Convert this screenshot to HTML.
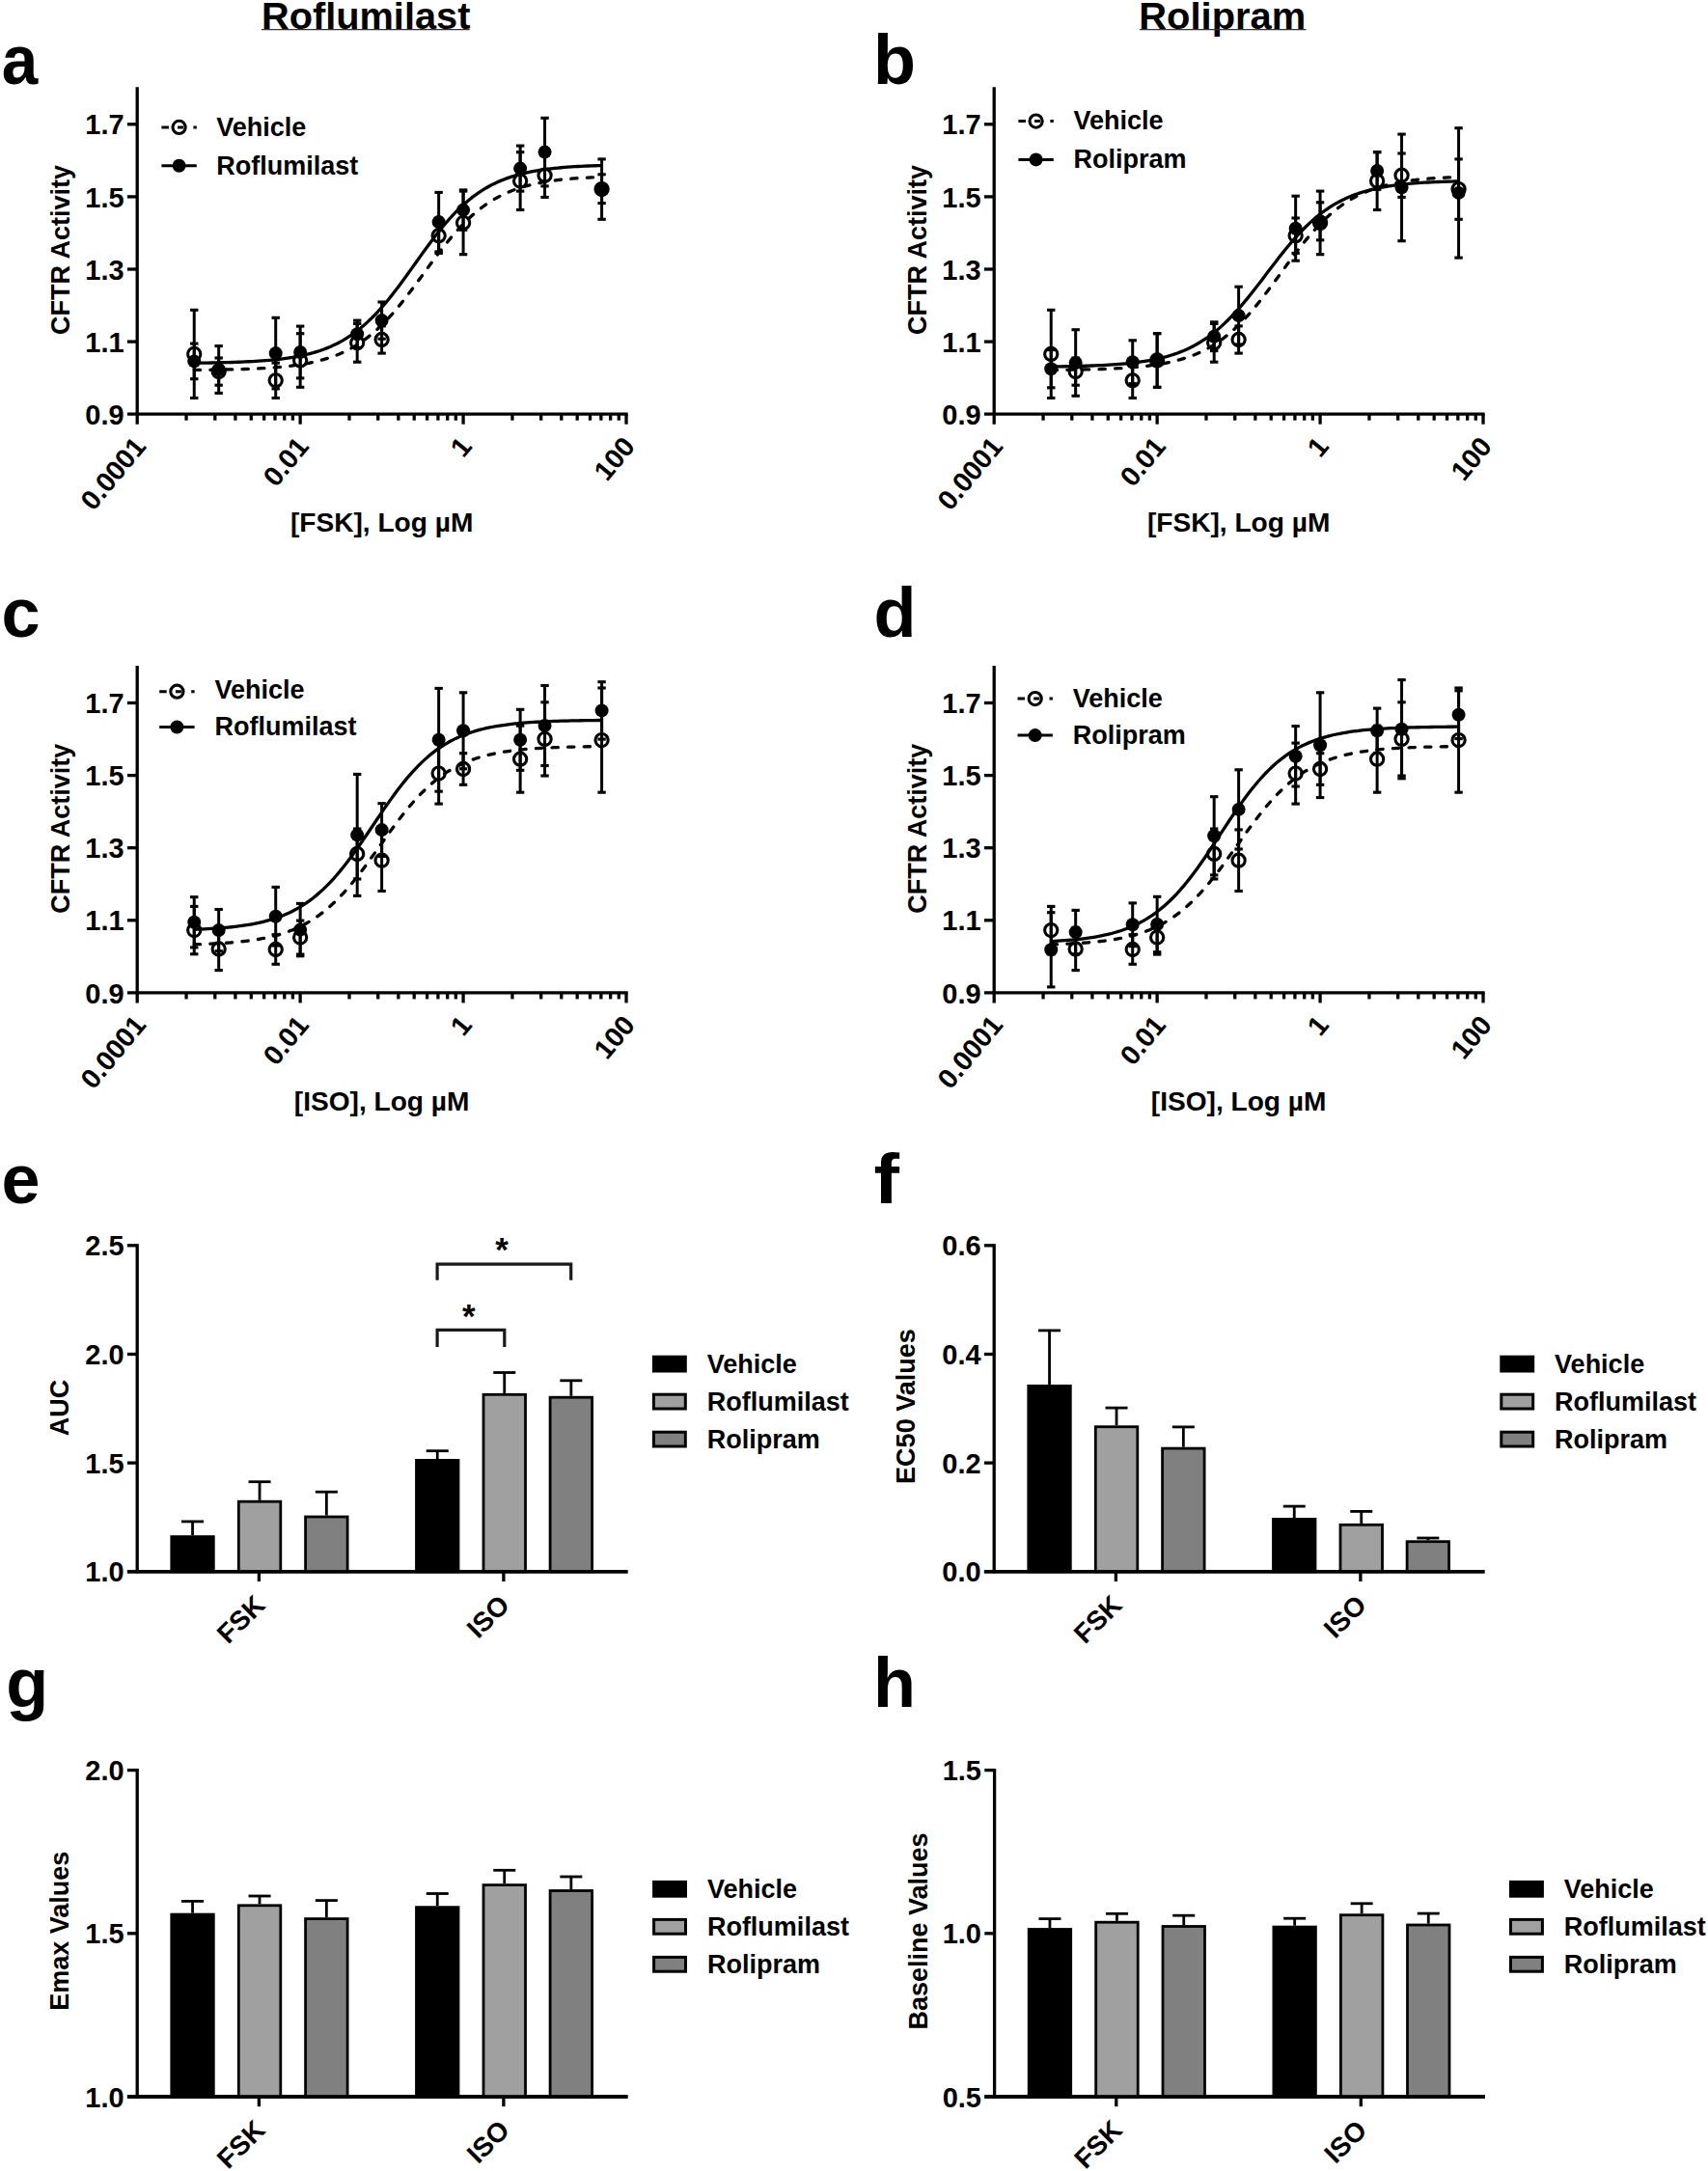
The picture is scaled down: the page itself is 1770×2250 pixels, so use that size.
<!DOCTYPE html>
<html lang="en"><head><meta charset="utf-8"><title>Figure</title>
<style>html,body{margin:0;padding:0;background:#fff}svg{display:block}</style></head>
<body>
<svg width="1770" height="2250" viewBox="0 0 1770 2250" font-family="'Liberation Sans', Arial, Helvetica, sans-serif" font-weight="bold" fill="#000">
<rect width="1770" height="2250" fill="#fff"/>
<text x="379.2" y="29.8" font-size="38.2" text-anchor="middle" textLength="216.5" lengthAdjust="spacingAndGlyphs">Roflumilast</text>
<line x1="271" y1="30.6" x2="486.7" y2="30.6" stroke-width="1.2" stroke="#333"/>
<text x="1266.8" y="29.8" font-size="38.2" text-anchor="middle" textLength="173" lengthAdjust="spacingAndGlyphs">Rolipram</text>
<line x1="1181" y1="30.6" x2="1353.5" y2="30.6" stroke-width="1.2" stroke="#333"/>
<g transform="translate(0 0)">
<g stroke="#000" fill="none" stroke-linecap="butt">
<line x1="142.2" y1="90.3" x2="142.2" y2="439.7" stroke-width="3.3"/>
<line x1="131.9" y1="429.2" x2="650.67" y2="429.2" stroke-width="3.3"/>
<line x1="131.9" y1="354.1" x2="142.2" y2="354.1" stroke-width="3.3"/>
<line x1="131.9" y1="279" x2="142.2" y2="279" stroke-width="3.3"/>
<line x1="131.9" y1="203.9" x2="142.2" y2="203.9" stroke-width="3.3"/>
<line x1="131.9" y1="128.8" x2="142.2" y2="128.8" stroke-width="3.3"/>
<line x1="311.14" y1="429.2" x2="311.14" y2="439.7" stroke-width="3.3"/>
<line x1="193.06" y1="429.2" x2="193.06" y2="435.7" stroke-width="3.3"/>
<line x1="222.8" y1="429.2" x2="222.8" y2="435.7" stroke-width="3.3"/>
<line x1="243.91" y1="429.2" x2="243.91" y2="435.7" stroke-width="3.3"/>
<line x1="260.28" y1="429.2" x2="260.28" y2="435.7" stroke-width="3.3"/>
<line x1="273.66" y1="429.2" x2="273.66" y2="435.7" stroke-width="3.3"/>
<line x1="284.97" y1="429.2" x2="284.97" y2="435.7" stroke-width="3.3"/>
<line x1="294.77" y1="429.2" x2="294.77" y2="435.7" stroke-width="3.3"/>
<line x1="303.41" y1="429.2" x2="303.41" y2="435.7" stroke-width="3.3"/>
<line x1="480.08" y1="429.2" x2="480.08" y2="439.7" stroke-width="3.3"/>
<line x1="362" y1="429.2" x2="362" y2="435.7" stroke-width="3.3"/>
<line x1="391.74" y1="429.2" x2="391.74" y2="435.7" stroke-width="3.3"/>
<line x1="412.85" y1="429.2" x2="412.85" y2="435.7" stroke-width="3.3"/>
<line x1="429.22" y1="429.2" x2="429.22" y2="435.7" stroke-width="3.3"/>
<line x1="442.6" y1="429.2" x2="442.6" y2="435.7" stroke-width="3.3"/>
<line x1="453.91" y1="429.2" x2="453.91" y2="435.7" stroke-width="3.3"/>
<line x1="463.71" y1="429.2" x2="463.71" y2="435.7" stroke-width="3.3"/>
<line x1="472.35" y1="429.2" x2="472.35" y2="435.7" stroke-width="3.3"/>
<line x1="649.02" y1="429.2" x2="649.02" y2="439.7" stroke-width="3.3"/>
<line x1="530.94" y1="429.2" x2="530.94" y2="435.7" stroke-width="3.3"/>
<line x1="560.68" y1="429.2" x2="560.68" y2="435.7" stroke-width="3.3"/>
<line x1="581.79" y1="429.2" x2="581.79" y2="435.7" stroke-width="3.3"/>
<line x1="598.16" y1="429.2" x2="598.16" y2="435.7" stroke-width="3.3"/>
<line x1="611.54" y1="429.2" x2="611.54" y2="435.7" stroke-width="3.3"/>
<line x1="622.85" y1="429.2" x2="622.85" y2="435.7" stroke-width="3.3"/>
<line x1="632.65" y1="429.2" x2="632.65" y2="435.7" stroke-width="3.3"/>
<line x1="641.29" y1="429.2" x2="641.29" y2="435.7" stroke-width="3.3"/>
</g>
<text x="128.6" y="439.88" font-size="29" text-anchor="end">0.9</text>
<text x="128.6" y="364.78" font-size="29" text-anchor="end">1.1</text>
<text x="128.6" y="289.68" font-size="29" text-anchor="end">1.3</text>
<text x="128.6" y="214.58" font-size="29" text-anchor="end">1.5</text>
<text x="128.6" y="139.48" font-size="29" text-anchor="end">1.7</text>
<text x="152.5" y="463.2" font-size="28.5" text-anchor="end" transform="rotate(-50.5 152.5 463.2)">0.0001</text>
<text x="321.44" y="463.2" font-size="28.5" text-anchor="end" transform="rotate(-50.5 321.44 463.2)">0.01</text>
<text x="490.38" y="463.2" font-size="28.5" text-anchor="end" transform="rotate(-50.5 490.38 463.2)">1</text>
<text x="659.32" y="463.2" font-size="28.5" text-anchor="end" transform="rotate(-50.5 659.32 463.2)">100</text>
<text x="395.61" y="551.2" font-size="28.1" text-anchor="middle">[FSK], Log µM</text>
<text x="71.6" y="259" font-size="27" text-anchor="middle" transform="rotate(-90 71.6 259)">CFTR Activity</text>
<polyline points="201.24,383.46 204.76,383.43 208.28,383.4 211.8,383.36 215.32,383.32 218.84,383.27 222.36,383.22 225.88,383.17 229.4,383.11 232.92,383.04 236.44,382.97 239.96,382.89 243.48,382.8 247,382.71 250.52,382.6 254.04,382.48 257.56,382.36 261.07,382.22 264.59,382.06 268.11,381.89 271.63,381.7 275.15,381.5 278.67,381.27 282.19,381.03 285.71,380.75 289.23,380.46 292.75,380.13 296.27,379.77 299.79,379.38 303.31,378.95 306.83,378.47 310.35,377.96 313.87,377.39 317.39,376.77 320.91,376.09 324.43,375.35 327.95,374.54 331.47,373.66 334.99,372.7 338.51,371.65 342.03,370.52 345.54,369.28 349.06,367.93 352.58,366.48 356.1,364.9 359.62,363.19 363.14,361.35 366.66,359.37 370.18,357.23 373.7,354.94 377.22,352.49 380.74,349.87 384.26,347.08 387.78,344.11 391.3,340.97 394.82,337.64 398.34,334.14 401.86,330.46 405.38,326.62 408.9,322.61 412.42,318.45 415.94,314.14 419.46,309.7 422.98,305.15 426.5,300.51 430.01,295.78 433.53,291 437.05,286.18 440.57,281.34 444.09,276.51 447.61,271.72 451.13,266.97 454.65,262.29 458.17,257.71 461.69,253.23 465.21,248.88 468.73,244.67 472.25,240.6 475.77,236.7 479.29,232.97 482.81,229.41 486.33,226.02 489.85,222.82 493.37,219.79 496.89,216.94 500.41,214.26 503.93,211.75 507.45,209.41 510.97,207.22 514.48,205.19 518,203.3 521.52,201.55 525.04,199.93 528.56,198.43 532.08,197.05 535.6,195.78 539.12,194.61 542.64,193.53 546.16,192.54 549.68,191.63 553.2,190.8 556.72,190.04 560.24,189.34 563.76,188.7 567.28,188.11 570.8,187.58 574.32,187.09 577.84,186.65 581.36,186.24 584.88,185.87 588.4,185.54 591.92,185.23 595.44,184.95 598.95,184.69 602.47,184.46 605.99,184.25 609.51,184.06 613.03,183.88 616.55,183.72 620.07,183.58 623.59,183.44" fill="none" stroke="#000" stroke-width="3.3" stroke-dasharray="6.3 10.3" stroke-linecap="round"/>
<polyline points="201.24,376.23 204.76,376.19 208.28,376.14 211.8,376.09 215.32,376.04 218.84,375.98 222.36,375.91 225.88,375.84 229.4,375.76 232.92,375.68 236.44,375.58 239.96,375.48 243.48,375.36 247,375.23 250.52,375.09 254.04,374.94 257.56,374.77 261.07,374.59 264.59,374.38 268.11,374.16 271.63,373.91 275.15,373.64 278.67,373.35 282.19,373.02 285.71,372.67 289.23,372.27 292.75,371.85 296.27,371.38 299.79,370.86 303.31,370.3 306.83,369.68 310.35,369.01 313.87,368.27 317.39,367.47 320.91,366.59 324.43,365.64 327.95,364.59 331.47,363.46 334.99,362.23 338.51,360.89 342.03,359.43 345.54,357.86 349.06,356.16 352.58,354.32 356.1,352.34 359.62,350.2 363.14,347.91 366.66,345.46 370.18,342.84 373.7,340.04 377.22,337.06 380.74,333.9 384.26,330.56 387.78,327.04 391.3,323.33 394.82,319.45 398.34,315.41 401.86,311.2 405.38,306.84 408.9,302.35 412.42,297.73 415.94,293.01 419.46,288.2 422.98,283.32 426.5,278.41 430.01,273.46 433.53,268.52 437.05,263.61 440.57,258.73 444.09,253.93 447.61,249.21 451.13,244.6 454.65,240.11 458.17,235.75 461.69,231.55 465.21,227.51 468.73,223.64 472.25,219.94 475.77,216.43 479.29,213.09 482.81,209.94 486.33,206.97 489.85,204.18 493.37,201.56 496.89,199.11 500.41,196.83 503.93,194.7 507.45,192.72 510.97,190.89 514.48,189.19 518,187.62 521.52,186.17 525.04,184.84 528.56,183.61 532.08,182.48 535.6,181.44 539.12,180.48 542.64,179.61 546.16,178.81 549.68,178.07 553.2,177.4 556.72,176.79 560.24,176.23 563.76,175.72 567.28,175.25 570.8,174.82 574.32,174.43 577.84,174.08 581.36,173.75 584.88,173.46 588.4,173.19 591.92,172.94 595.44,172.72 598.95,172.52 602.47,172.33 605.99,172.17 609.51,172.01 613.03,171.87 616.55,171.75 620.07,171.63 623.59,171.53" fill="none" stroke="#000" stroke-width="3.3"/>
<g stroke="#000" stroke-width="3" fill="none">
<line x1="201.24" y1="321.3" x2="201.24" y2="412.5" stroke-width="3"/>
<line x1="197.04" y1="321.3" x2="205.44" y2="321.3" stroke-width="3.1"/>
<line x1="197.04" y1="412.5" x2="205.44" y2="412.5" stroke-width="3.1"/>
<line x1="226.67" y1="371" x2="226.67" y2="399.2" stroke-width="3"/>
<line x1="222.47" y1="371" x2="230.87" y2="371" stroke-width="3.1"/>
<line x1="222.47" y1="399.2" x2="230.87" y2="399.2" stroke-width="3.1"/>
<line x1="285.71" y1="376.1" x2="285.71" y2="412.5" stroke-width="3"/>
<line x1="281.51" y1="376.1" x2="289.91" y2="376.1" stroke-width="3.1"/>
<line x1="281.51" y1="412.5" x2="289.91" y2="412.5" stroke-width="3.1"/>
<line x1="311.14" y1="345.7" x2="311.14" y2="401.3" stroke-width="3"/>
<line x1="306.94" y1="345.7" x2="315.34" y2="345.7" stroke-width="3.1"/>
<line x1="306.94" y1="401.3" x2="315.34" y2="401.3" stroke-width="3.1"/>
<line x1="370.18" y1="335.4" x2="370.18" y2="375.2" stroke-width="3"/>
<line x1="365.98" y1="335.4" x2="374.38" y2="335.4" stroke-width="3.1"/>
<line x1="365.98" y1="375.2" x2="374.38" y2="375.2" stroke-width="3.1"/>
<line x1="395.61" y1="337.9" x2="395.61" y2="366.1" stroke-width="3"/>
<line x1="391.41" y1="337.9" x2="399.81" y2="337.9" stroke-width="3.1"/>
<line x1="391.41" y1="366.1" x2="399.81" y2="366.1" stroke-width="3.1"/>
<line x1="454.65" y1="226" x2="454.65" y2="262.4" stroke-width="3"/>
<line x1="450.45" y1="226" x2="458.85" y2="226" stroke-width="3.1"/>
<line x1="450.45" y1="262.4" x2="458.85" y2="262.4" stroke-width="3.1"/>
<line x1="480.08" y1="198.1" x2="480.08" y2="263.7" stroke-width="3"/>
<line x1="475.88" y1="198.1" x2="484.28" y2="198.1" stroke-width="3.1"/>
<line x1="475.88" y1="263.7" x2="484.28" y2="263.7" stroke-width="3.1"/>
<line x1="539.12" y1="157.7" x2="539.12" y2="217.5" stroke-width="3"/>
<line x1="534.92" y1="157.7" x2="543.32" y2="157.7" stroke-width="3.1"/>
<line x1="534.92" y1="217.5" x2="543.32" y2="217.5" stroke-width="3.1"/>
<line x1="564.55" y1="159" x2="564.55" y2="204.4" stroke-width="3"/>
<line x1="560.35" y1="159" x2="568.75" y2="159" stroke-width="3.1"/>
<line x1="560.35" y1="204.4" x2="568.75" y2="204.4" stroke-width="3.1"/>
<line x1="623.59" y1="164.9" x2="623.59" y2="227.3" stroke-width="3"/>
<line x1="619.39" y1="164.9" x2="627.79" y2="164.9" stroke-width="3.1"/>
<line x1="619.39" y1="227.3" x2="627.79" y2="227.3" stroke-width="3.1"/>
<line x1="201.24" y1="356.1" x2="201.24" y2="392.7" stroke-width="3"/>
<line x1="197.04" y1="356.1" x2="205.44" y2="356.1" stroke-width="3.1"/>
<line x1="197.04" y1="392.7" x2="205.44" y2="392.7" stroke-width="3.1"/>
<line x1="226.67" y1="358.6" x2="226.67" y2="407.4" stroke-width="3"/>
<line x1="222.47" y1="358.6" x2="230.87" y2="358.6" stroke-width="3.1"/>
<line x1="222.47" y1="407.4" x2="230.87" y2="407.4" stroke-width="3.1"/>
<line x1="285.71" y1="329.3" x2="285.71" y2="402.9" stroke-width="3"/>
<line x1="281.51" y1="329.3" x2="289.91" y2="329.3" stroke-width="3.1"/>
<line x1="281.51" y1="402.9" x2="289.91" y2="402.9" stroke-width="3.1"/>
<line x1="311.14" y1="338.1" x2="311.14" y2="391.9" stroke-width="3"/>
<line x1="306.94" y1="338.1" x2="315.34" y2="338.1" stroke-width="3.1"/>
<line x1="306.94" y1="391.9" x2="315.34" y2="391.9" stroke-width="3.1"/>
<line x1="370.18" y1="332.1" x2="370.18" y2="360.3" stroke-width="3"/>
<line x1="365.98" y1="332.1" x2="374.38" y2="332.1" stroke-width="3.1"/>
<line x1="365.98" y1="360.3" x2="374.38" y2="360.3" stroke-width="3.1"/>
<line x1="395.61" y1="313" x2="395.61" y2="351.2" stroke-width="3"/>
<line x1="391.41" y1="313" x2="399.81" y2="313" stroke-width="3.1"/>
<line x1="391.41" y1="351.2" x2="399.81" y2="351.2" stroke-width="3.1"/>
<line x1="454.65" y1="199.4" x2="454.65" y2="260.8" stroke-width="3"/>
<line x1="450.45" y1="199.4" x2="458.85" y2="199.4" stroke-width="3.1"/>
<line x1="450.45" y1="260.8" x2="458.85" y2="260.8" stroke-width="3.1"/>
<line x1="480.08" y1="196.9" x2="480.08" y2="238.3" stroke-width="3"/>
<line x1="475.88" y1="196.9" x2="484.28" y2="196.9" stroke-width="3.1"/>
<line x1="475.88" y1="238.3" x2="484.28" y2="238.3" stroke-width="3.1"/>
<line x1="539.12" y1="151.1" x2="539.12" y2="198.1" stroke-width="3"/>
<line x1="534.92" y1="151.1" x2="543.32" y2="151.1" stroke-width="3.1"/>
<line x1="534.92" y1="198.1" x2="543.32" y2="198.1" stroke-width="3.1"/>
<line x1="564.55" y1="122.3" x2="564.55" y2="192.9" stroke-width="3"/>
<line x1="560.35" y1="122.3" x2="568.75" y2="122.3" stroke-width="3.1"/>
<line x1="560.35" y1="192.9" x2="568.75" y2="192.9" stroke-width="3.1"/>
<line x1="623.59" y1="180.8" x2="623.59" y2="210.6" stroke-width="3"/>
<line x1="619.39" y1="180.8" x2="627.79" y2="180.8" stroke-width="3.1"/>
<line x1="619.39" y1="210.6" x2="627.79" y2="210.6" stroke-width="3.1"/>
</g>
<circle cx="201.24" cy="366.9" r="6.6" fill="none" stroke="#000" stroke-width="3.1"/>
<circle cx="226.67" cy="385.1" r="6.6" fill="none" stroke="#000" stroke-width="3.1"/>
<circle cx="285.71" cy="394.3" r="6.6" fill="none" stroke="#000" stroke-width="3.1"/>
<circle cx="311.14" cy="373.5" r="6.6" fill="none" stroke="#000" stroke-width="3.1"/>
<circle cx="370.18" cy="355.3" r="6.6" fill="none" stroke="#000" stroke-width="3.1"/>
<circle cx="395.61" cy="352" r="6.6" fill="none" stroke="#000" stroke-width="3.1"/>
<circle cx="454.65" cy="244.2" r="6.6" fill="none" stroke="#000" stroke-width="3.1"/>
<circle cx="480.08" cy="230.9" r="6.6" fill="none" stroke="#000" stroke-width="3.1"/>
<circle cx="539.12" cy="187.6" r="6.6" fill="none" stroke="#000" stroke-width="3.1"/>
<circle cx="564.55" cy="181.7" r="6.6" fill="none" stroke="#000" stroke-width="3.1"/>
<circle cx="623.59" cy="196.1" r="6.6" fill="none" stroke="#000" stroke-width="3.1"/>
<circle cx="201.24" cy="374.4" r="7" fill="#000"/>
<circle cx="226.67" cy="383" r="7" fill="#000"/>
<circle cx="285.71" cy="366.1" r="7" fill="#000"/>
<circle cx="311.14" cy="365" r="7" fill="#000"/>
<circle cx="370.18" cy="346.2" r="7" fill="#000"/>
<circle cx="395.61" cy="332.1" r="7" fill="#000"/>
<circle cx="454.65" cy="230.1" r="7" fill="#000"/>
<circle cx="480.08" cy="217.6" r="7" fill="#000"/>
<circle cx="539.12" cy="174.6" r="7" fill="#000"/>
<circle cx="564.55" cy="157.6" r="7" fill="#000"/>
<circle cx="623.59" cy="195.7" r="7" fill="#000"/>
<line x1="167.4" y1="131.9" x2="203.8" y2="131.9" stroke="#000" stroke-width="3" stroke-dasharray="7.5 9.2 6 10.3 3.4"/>
<circle cx="185.6" cy="131.9" r="6.6" fill="none" stroke="#000" stroke-width="3.1"/>
<line x1="167.4" y1="171.7" x2="203.8" y2="171.7" stroke-width="3" stroke="#000"/>
<circle cx="185.6" cy="171.7" r="7" fill="#000"/>
<text x="224.2" y="140.5" font-size="27" text-anchor="start">Vehicle</text>
<text x="224.2" y="180.8" font-size="27" text-anchor="start">Roflumilast</text>
</g>
<text x="1.7" y="86.8" font-size="72" text-anchor="start" textLength="37.5" lengthAdjust="spacingAndGlyphs">a</text>
<g transform="translate(888 0)">
<g stroke="#000" fill="none" stroke-linecap="butt">
<line x1="142.2" y1="90.3" x2="142.2" y2="439.7" stroke-width="3.3"/>
<line x1="131.9" y1="429.2" x2="650.67" y2="429.2" stroke-width="3.3"/>
<line x1="131.9" y1="354.1" x2="142.2" y2="354.1" stroke-width="3.3"/>
<line x1="131.9" y1="279" x2="142.2" y2="279" stroke-width="3.3"/>
<line x1="131.9" y1="203.9" x2="142.2" y2="203.9" stroke-width="3.3"/>
<line x1="131.9" y1="128.8" x2="142.2" y2="128.8" stroke-width="3.3"/>
<line x1="311.14" y1="429.2" x2="311.14" y2="439.7" stroke-width="3.3"/>
<line x1="193.06" y1="429.2" x2="193.06" y2="435.7" stroke-width="3.3"/>
<line x1="222.8" y1="429.2" x2="222.8" y2="435.7" stroke-width="3.3"/>
<line x1="243.91" y1="429.2" x2="243.91" y2="435.7" stroke-width="3.3"/>
<line x1="260.28" y1="429.2" x2="260.28" y2="435.7" stroke-width="3.3"/>
<line x1="273.66" y1="429.2" x2="273.66" y2="435.7" stroke-width="3.3"/>
<line x1="284.97" y1="429.2" x2="284.97" y2="435.7" stroke-width="3.3"/>
<line x1="294.77" y1="429.2" x2="294.77" y2="435.7" stroke-width="3.3"/>
<line x1="303.41" y1="429.2" x2="303.41" y2="435.7" stroke-width="3.3"/>
<line x1="480.08" y1="429.2" x2="480.08" y2="439.7" stroke-width="3.3"/>
<line x1="362" y1="429.2" x2="362" y2="435.7" stroke-width="3.3"/>
<line x1="391.74" y1="429.2" x2="391.74" y2="435.7" stroke-width="3.3"/>
<line x1="412.85" y1="429.2" x2="412.85" y2="435.7" stroke-width="3.3"/>
<line x1="429.22" y1="429.2" x2="429.22" y2="435.7" stroke-width="3.3"/>
<line x1="442.6" y1="429.2" x2="442.6" y2="435.7" stroke-width="3.3"/>
<line x1="453.91" y1="429.2" x2="453.91" y2="435.7" stroke-width="3.3"/>
<line x1="463.71" y1="429.2" x2="463.71" y2="435.7" stroke-width="3.3"/>
<line x1="472.35" y1="429.2" x2="472.35" y2="435.7" stroke-width="3.3"/>
<line x1="649.02" y1="429.2" x2="649.02" y2="439.7" stroke-width="3.3"/>
<line x1="530.94" y1="429.2" x2="530.94" y2="435.7" stroke-width="3.3"/>
<line x1="560.68" y1="429.2" x2="560.68" y2="435.7" stroke-width="3.3"/>
<line x1="581.79" y1="429.2" x2="581.79" y2="435.7" stroke-width="3.3"/>
<line x1="598.16" y1="429.2" x2="598.16" y2="435.7" stroke-width="3.3"/>
<line x1="611.54" y1="429.2" x2="611.54" y2="435.7" stroke-width="3.3"/>
<line x1="622.85" y1="429.2" x2="622.85" y2="435.7" stroke-width="3.3"/>
<line x1="632.65" y1="429.2" x2="632.65" y2="435.7" stroke-width="3.3"/>
<line x1="641.29" y1="429.2" x2="641.29" y2="435.7" stroke-width="3.3"/>
</g>
<text x="128.6" y="439.88" font-size="29" text-anchor="end">0.9</text>
<text x="128.6" y="364.78" font-size="29" text-anchor="end">1.1</text>
<text x="128.6" y="289.68" font-size="29" text-anchor="end">1.3</text>
<text x="128.6" y="214.58" font-size="29" text-anchor="end">1.5</text>
<text x="128.6" y="139.48" font-size="29" text-anchor="end">1.7</text>
<text x="152.5" y="463.2" font-size="28.5" text-anchor="end" transform="rotate(-50.5 152.5 463.2)">0.0001</text>
<text x="321.44" y="463.2" font-size="28.5" text-anchor="end" transform="rotate(-50.5 321.44 463.2)">0.01</text>
<text x="490.38" y="463.2" font-size="28.5" text-anchor="end" transform="rotate(-50.5 490.38 463.2)">1</text>
<text x="659.32" y="463.2" font-size="28.5" text-anchor="end" transform="rotate(-50.5 659.32 463.2)">100</text>
<text x="395.61" y="551.2" font-size="28.1" text-anchor="middle">[FSK], Log µM</text>
<text x="71.6" y="259" font-size="27" text-anchor="middle" transform="rotate(-90 71.6 259)">CFTR Activity</text>
<polyline points="201.24,383.46 204.76,383.43 208.28,383.4 211.8,383.36 215.32,383.32 218.84,383.27 222.36,383.22 225.88,383.17 229.4,383.11 232.92,383.04 236.44,382.97 239.96,382.89 243.48,382.8 247,382.71 250.52,382.6 254.04,382.48 257.56,382.36 261.07,382.22 264.59,382.06 268.11,381.89 271.63,381.7 275.15,381.5 278.67,381.27 282.19,381.03 285.71,380.75 289.23,380.46 292.75,380.13 296.27,379.77 299.79,379.38 303.31,378.95 306.83,378.47 310.35,377.96 313.87,377.39 317.39,376.77 320.91,376.09 324.43,375.35 327.95,374.54 331.47,373.66 334.99,372.7 338.51,371.65 342.03,370.52 345.54,369.28 349.06,367.93 352.58,366.48 356.1,364.9 359.62,363.19 363.14,361.35 366.66,359.37 370.18,357.23 373.7,354.94 377.22,352.49 380.74,349.87 384.26,347.08 387.78,344.11 391.3,340.97 394.82,337.64 398.34,334.14 401.86,330.46 405.38,326.62 408.9,322.61 412.42,318.45 415.94,314.14 419.46,309.7 422.98,305.15 426.5,300.51 430.01,295.78 433.53,291 437.05,286.18 440.57,281.34 444.09,276.51 447.61,271.72 451.13,266.97 454.65,262.29 458.17,257.71 461.69,253.23 465.21,248.88 468.73,244.67 472.25,240.6 475.77,236.7 479.29,232.97 482.81,229.41 486.33,226.02 489.85,222.82 493.37,219.79 496.89,216.94 500.41,214.26 503.93,211.75 507.45,209.41 510.97,207.22 514.48,205.19 518,203.3 521.52,201.55 525.04,199.93 528.56,198.43 532.08,197.05 535.6,195.78 539.12,194.61 542.64,193.53 546.16,192.54 549.68,191.63 553.2,190.8 556.72,190.04 560.24,189.34 563.76,188.7 567.28,188.11 570.8,187.58 574.32,187.09 577.84,186.65 581.36,186.24 584.88,185.87 588.4,185.54 591.92,185.23 595.44,184.95 598.95,184.69 602.47,184.46 605.99,184.25 609.51,184.06 613.03,183.88 616.55,183.72 620.07,183.58 623.59,183.44" fill="none" stroke="#000" stroke-width="3.3" stroke-dasharray="6.3 10.3" stroke-linecap="round"/>
<polyline points="201.24,379.95 204.76,379.9 208.28,379.85 211.8,379.8 215.32,379.74 218.84,379.68 222.36,379.61 225.88,379.53 229.4,379.44 232.92,379.35 236.44,379.24 239.96,379.13 243.48,379.01 247,378.87 250.52,378.72 254.04,378.55 257.56,378.37 261.07,378.17 264.59,377.94 268.11,377.7 271.63,377.44 275.15,377.14 278.67,376.82 282.19,376.47 285.71,376.09 289.23,375.67 292.75,375.2 296.27,374.7 299.79,374.14 303.31,373.54 306.83,372.87 310.35,372.15 313.87,371.36 317.39,370.5 320.91,369.56 324.43,368.53 327.95,367.42 331.47,366.21 334.99,364.9 338.51,363.47 342.03,361.93 345.54,360.27 349.06,358.47 352.58,356.54 356.1,354.46 359.62,352.23 363.14,349.84 366.66,347.29 370.18,344.57 373.7,341.69 377.22,338.63 380.74,335.41 384.26,332.01 387.78,328.45 391.3,324.72 394.82,320.85 398.34,316.82 401.86,312.66 405.38,308.38 408.9,303.99 412.42,299.52 415.94,294.97 419.46,290.38 422.98,285.75 426.5,281.11 430.01,276.48 433.53,271.89 437.05,267.35 440.57,262.89 444.09,258.51 447.61,254.24 451.13,250.1 454.65,246.09 458.17,242.23 461.69,238.52 465.21,234.98 468.73,231.6 472.25,228.4 475.77,225.36 479.29,222.5 482.81,219.8 486.33,217.27 489.85,214.9 493.37,212.69 496.89,210.62 500.41,208.7 503.93,206.92 507.45,205.27 510.97,203.75 514.48,202.34 518,201.04 521.52,199.84 525.04,198.73 528.56,197.72 532.08,196.79 535.6,195.94 539.12,195.15 542.64,194.44 546.16,193.78 549.68,193.18 553.2,192.63 556.72,192.13 560.24,191.67 563.76,191.25 567.28,190.87 570.8,190.53 574.32,190.21 577.84,189.92 581.36,189.66 584.88,189.42 588.4,189.2 591.92,189 595.44,188.82 598.95,188.65 602.47,188.5 605.99,188.37 609.51,188.24 613.03,188.13 616.55,188.03 620.07,187.93 623.59,187.85" fill="none" stroke="#000" stroke-width="3.3"/>
<g stroke="#000" stroke-width="3" fill="none">
<line x1="201.24" y1="321.3" x2="201.24" y2="412.5" stroke-width="3"/>
<line x1="197.04" y1="321.3" x2="205.44" y2="321.3" stroke-width="3.1"/>
<line x1="197.04" y1="412.5" x2="205.44" y2="412.5" stroke-width="3.1"/>
<line x1="226.67" y1="371" x2="226.67" y2="399.2" stroke-width="3"/>
<line x1="222.47" y1="371" x2="230.87" y2="371" stroke-width="3.1"/>
<line x1="222.47" y1="399.2" x2="230.87" y2="399.2" stroke-width="3.1"/>
<line x1="285.71" y1="376.1" x2="285.71" y2="412.5" stroke-width="3"/>
<line x1="281.51" y1="376.1" x2="289.91" y2="376.1" stroke-width="3.1"/>
<line x1="281.51" y1="412.5" x2="289.91" y2="412.5" stroke-width="3.1"/>
<line x1="311.14" y1="345.7" x2="311.14" y2="401.3" stroke-width="3"/>
<line x1="306.94" y1="345.7" x2="315.34" y2="345.7" stroke-width="3.1"/>
<line x1="306.94" y1="401.3" x2="315.34" y2="401.3" stroke-width="3.1"/>
<line x1="370.18" y1="335.4" x2="370.18" y2="375.2" stroke-width="3"/>
<line x1="365.98" y1="335.4" x2="374.38" y2="335.4" stroke-width="3.1"/>
<line x1="365.98" y1="375.2" x2="374.38" y2="375.2" stroke-width="3.1"/>
<line x1="395.61" y1="337.9" x2="395.61" y2="366.1" stroke-width="3"/>
<line x1="391.41" y1="337.9" x2="399.81" y2="337.9" stroke-width="3.1"/>
<line x1="391.41" y1="366.1" x2="399.81" y2="366.1" stroke-width="3.1"/>
<line x1="454.65" y1="226" x2="454.65" y2="262.4" stroke-width="3"/>
<line x1="450.45" y1="226" x2="458.85" y2="226" stroke-width="3.1"/>
<line x1="450.45" y1="262.4" x2="458.85" y2="262.4" stroke-width="3.1"/>
<line x1="480.08" y1="198.1" x2="480.08" y2="263.7" stroke-width="3"/>
<line x1="475.88" y1="198.1" x2="484.28" y2="198.1" stroke-width="3.1"/>
<line x1="475.88" y1="263.7" x2="484.28" y2="263.7" stroke-width="3.1"/>
<line x1="539.12" y1="157.7" x2="539.12" y2="217.5" stroke-width="3"/>
<line x1="534.92" y1="157.7" x2="543.32" y2="157.7" stroke-width="3.1"/>
<line x1="534.92" y1="217.5" x2="543.32" y2="217.5" stroke-width="3.1"/>
<line x1="564.55" y1="159" x2="564.55" y2="204.4" stroke-width="3"/>
<line x1="560.35" y1="159" x2="568.75" y2="159" stroke-width="3.1"/>
<line x1="560.35" y1="204.4" x2="568.75" y2="204.4" stroke-width="3.1"/>
<line x1="623.59" y1="164.9" x2="623.59" y2="227.3" stroke-width="3"/>
<line x1="619.39" y1="164.9" x2="627.79" y2="164.9" stroke-width="3.1"/>
<line x1="619.39" y1="227.3" x2="627.79" y2="227.3" stroke-width="3.1"/>
<line x1="201.24" y1="362.6" x2="201.24" y2="401.8" stroke-width="3"/>
<line x1="197.04" y1="362.6" x2="205.44" y2="362.6" stroke-width="3.1"/>
<line x1="197.04" y1="401.8" x2="205.44" y2="401.8" stroke-width="3.1"/>
<line x1="226.67" y1="341.7" x2="226.67" y2="410.3" stroke-width="3"/>
<line x1="222.47" y1="341.7" x2="230.87" y2="341.7" stroke-width="3.1"/>
<line x1="222.47" y1="410.3" x2="230.87" y2="410.3" stroke-width="3.1"/>
<line x1="285.71" y1="352.8" x2="285.71" y2="397.6" stroke-width="3"/>
<line x1="281.51" y1="352.8" x2="289.91" y2="352.8" stroke-width="3.1"/>
<line x1="281.51" y1="397.6" x2="289.91" y2="397.6" stroke-width="3.1"/>
<line x1="311.14" y1="345.6" x2="311.14" y2="401.4" stroke-width="3"/>
<line x1="306.94" y1="345.6" x2="315.34" y2="345.6" stroke-width="3.1"/>
<line x1="306.94" y1="401.4" x2="315.34" y2="401.4" stroke-width="3.1"/>
<line x1="370.18" y1="333.8" x2="370.18" y2="363.6" stroke-width="3"/>
<line x1="365.98" y1="333.8" x2="374.38" y2="333.8" stroke-width="3.1"/>
<line x1="365.98" y1="363.6" x2="374.38" y2="363.6" stroke-width="3.1"/>
<line x1="395.61" y1="297.2" x2="395.61" y2="357" stroke-width="3"/>
<line x1="391.41" y1="297.2" x2="399.81" y2="297.2" stroke-width="3.1"/>
<line x1="391.41" y1="357" x2="399.81" y2="357" stroke-width="3.1"/>
<line x1="454.65" y1="203.2" x2="454.65" y2="270.2" stroke-width="3"/>
<line x1="450.45" y1="203.2" x2="458.85" y2="203.2" stroke-width="3.1"/>
<line x1="450.45" y1="270.2" x2="458.85" y2="270.2" stroke-width="3.1"/>
<line x1="480.08" y1="209.8" x2="480.08" y2="248.8" stroke-width="3"/>
<line x1="475.88" y1="209.8" x2="484.28" y2="209.8" stroke-width="3.1"/>
<line x1="475.88" y1="248.8" x2="484.28" y2="248.8" stroke-width="3.1"/>
<line x1="539.12" y1="157.6" x2="539.12" y2="196.4" stroke-width="3"/>
<line x1="534.92" y1="157.6" x2="543.32" y2="157.6" stroke-width="3.1"/>
<line x1="534.92" y1="196.4" x2="543.32" y2="196.4" stroke-width="3.1"/>
<line x1="564.55" y1="139.1" x2="564.55" y2="249.7" stroke-width="3"/>
<line x1="560.35" y1="139.1" x2="568.75" y2="139.1" stroke-width="3.1"/>
<line x1="560.35" y1="249.7" x2="568.75" y2="249.7" stroke-width="3.1"/>
<line x1="623.59" y1="132.7" x2="623.59" y2="267.1" stroke-width="3"/>
<line x1="619.39" y1="132.7" x2="627.79" y2="132.7" stroke-width="3.1"/>
<line x1="619.39" y1="267.1" x2="627.79" y2="267.1" stroke-width="3.1"/>
</g>
<circle cx="201.24" cy="366.9" r="6.6" fill="none" stroke="#000" stroke-width="3.1"/>
<circle cx="226.67" cy="385.1" r="6.6" fill="none" stroke="#000" stroke-width="3.1"/>
<circle cx="285.71" cy="394.3" r="6.6" fill="none" stroke="#000" stroke-width="3.1"/>
<circle cx="311.14" cy="373.5" r="6.6" fill="none" stroke="#000" stroke-width="3.1"/>
<circle cx="370.18" cy="355.3" r="6.6" fill="none" stroke="#000" stroke-width="3.1"/>
<circle cx="395.61" cy="352" r="6.6" fill="none" stroke="#000" stroke-width="3.1"/>
<circle cx="454.65" cy="244.2" r="6.6" fill="none" stroke="#000" stroke-width="3.1"/>
<circle cx="480.08" cy="230.9" r="6.6" fill="none" stroke="#000" stroke-width="3.1"/>
<circle cx="539.12" cy="187.6" r="6.6" fill="none" stroke="#000" stroke-width="3.1"/>
<circle cx="564.55" cy="181.7" r="6.6" fill="none" stroke="#000" stroke-width="3.1"/>
<circle cx="623.59" cy="196.1" r="6.6" fill="none" stroke="#000" stroke-width="3.1"/>
<circle cx="201.24" cy="382.2" r="7" fill="#000"/>
<circle cx="226.67" cy="376" r="7" fill="#000"/>
<circle cx="285.71" cy="375.2" r="7" fill="#000"/>
<circle cx="311.14" cy="373.5" r="7" fill="#000"/>
<circle cx="370.18" cy="348.7" r="7" fill="#000"/>
<circle cx="395.61" cy="327.1" r="7" fill="#000"/>
<circle cx="454.65" cy="236.7" r="7" fill="#000"/>
<circle cx="480.08" cy="229.3" r="7" fill="#000"/>
<circle cx="539.12" cy="177" r="7" fill="#000"/>
<circle cx="564.55" cy="194.4" r="7" fill="#000"/>
<circle cx="623.59" cy="199.9" r="7" fill="#000"/>
<line x1="167.4" y1="125.6" x2="203.8" y2="125.6" stroke="#000" stroke-width="3" stroke-dasharray="7.5 9.2 6 10.3 3.4"/>
<circle cx="185.6" cy="125.6" r="6.6" fill="none" stroke="#000" stroke-width="3.1"/>
<line x1="167.4" y1="165.4" x2="203.8" y2="165.4" stroke-width="3" stroke="#000"/>
<circle cx="185.6" cy="165.4" r="7" fill="#000"/>
<text x="224.5" y="134.4" font-size="27" text-anchor="start">Vehicle</text>
<text x="224.5" y="173.7" font-size="27" text-anchor="start">Rolipram</text>
</g>
<text x="905.1" y="87.3" font-size="72" text-anchor="start">b</text>
<g transform="translate(0 599.7)">
<g stroke="#000" fill="none" stroke-linecap="butt">
<line x1="142.2" y1="90.3" x2="142.2" y2="439.7" stroke-width="3.3"/>
<line x1="131.9" y1="429.2" x2="650.67" y2="429.2" stroke-width="3.3"/>
<line x1="131.9" y1="354.1" x2="142.2" y2="354.1" stroke-width="3.3"/>
<line x1="131.9" y1="279" x2="142.2" y2="279" stroke-width="3.3"/>
<line x1="131.9" y1="203.9" x2="142.2" y2="203.9" stroke-width="3.3"/>
<line x1="131.9" y1="128.8" x2="142.2" y2="128.8" stroke-width="3.3"/>
<line x1="311.14" y1="429.2" x2="311.14" y2="439.7" stroke-width="3.3"/>
<line x1="193.06" y1="429.2" x2="193.06" y2="435.7" stroke-width="3.3"/>
<line x1="222.8" y1="429.2" x2="222.8" y2="435.7" stroke-width="3.3"/>
<line x1="243.91" y1="429.2" x2="243.91" y2="435.7" stroke-width="3.3"/>
<line x1="260.28" y1="429.2" x2="260.28" y2="435.7" stroke-width="3.3"/>
<line x1="273.66" y1="429.2" x2="273.66" y2="435.7" stroke-width="3.3"/>
<line x1="284.97" y1="429.2" x2="284.97" y2="435.7" stroke-width="3.3"/>
<line x1="294.77" y1="429.2" x2="294.77" y2="435.7" stroke-width="3.3"/>
<line x1="303.41" y1="429.2" x2="303.41" y2="435.7" stroke-width="3.3"/>
<line x1="480.08" y1="429.2" x2="480.08" y2="439.7" stroke-width="3.3"/>
<line x1="362" y1="429.2" x2="362" y2="435.7" stroke-width="3.3"/>
<line x1="391.74" y1="429.2" x2="391.74" y2="435.7" stroke-width="3.3"/>
<line x1="412.85" y1="429.2" x2="412.85" y2="435.7" stroke-width="3.3"/>
<line x1="429.22" y1="429.2" x2="429.22" y2="435.7" stroke-width="3.3"/>
<line x1="442.6" y1="429.2" x2="442.6" y2="435.7" stroke-width="3.3"/>
<line x1="453.91" y1="429.2" x2="453.91" y2="435.7" stroke-width="3.3"/>
<line x1="463.71" y1="429.2" x2="463.71" y2="435.7" stroke-width="3.3"/>
<line x1="472.35" y1="429.2" x2="472.35" y2="435.7" stroke-width="3.3"/>
<line x1="649.02" y1="429.2" x2="649.02" y2="439.7" stroke-width="3.3"/>
<line x1="530.94" y1="429.2" x2="530.94" y2="435.7" stroke-width="3.3"/>
<line x1="560.68" y1="429.2" x2="560.68" y2="435.7" stroke-width="3.3"/>
<line x1="581.79" y1="429.2" x2="581.79" y2="435.7" stroke-width="3.3"/>
<line x1="598.16" y1="429.2" x2="598.16" y2="435.7" stroke-width="3.3"/>
<line x1="611.54" y1="429.2" x2="611.54" y2="435.7" stroke-width="3.3"/>
<line x1="622.85" y1="429.2" x2="622.85" y2="435.7" stroke-width="3.3"/>
<line x1="632.65" y1="429.2" x2="632.65" y2="435.7" stroke-width="3.3"/>
<line x1="641.29" y1="429.2" x2="641.29" y2="435.7" stroke-width="3.3"/>
</g>
<text x="128.6" y="439.88" font-size="29" text-anchor="end">0.9</text>
<text x="128.6" y="364.78" font-size="29" text-anchor="end">1.1</text>
<text x="128.6" y="289.68" font-size="29" text-anchor="end">1.3</text>
<text x="128.6" y="214.58" font-size="29" text-anchor="end">1.5</text>
<text x="128.6" y="139.48" font-size="29" text-anchor="end">1.7</text>
<text x="152.5" y="463.2" font-size="28.5" text-anchor="end" transform="rotate(-50.5 152.5 463.2)">0.0001</text>
<text x="321.44" y="463.2" font-size="28.5" text-anchor="end" transform="rotate(-50.5 321.44 463.2)">0.01</text>
<text x="490.38" y="463.2" font-size="28.5" text-anchor="end" transform="rotate(-50.5 490.38 463.2)">1</text>
<text x="659.32" y="463.2" font-size="28.5" text-anchor="end" transform="rotate(-50.5 659.32 463.2)">100</text>
<text x="395.61" y="551.2" font-size="28.1" text-anchor="middle">[ISO], Log µM</text>
<text x="71.6" y="259" font-size="27" text-anchor="middle" transform="rotate(-90 71.6 259)">CFTR Activity</text>
<polyline points="201.24,379.11 204.76,379.01 208.28,378.89 211.8,378.76 215.32,378.61 218.84,378.45 222.36,378.28 225.88,378.09 229.4,377.88 232.92,377.65 236.44,377.4 239.96,377.12 243.48,376.81 247,376.48 250.52,376.11 254.04,375.71 257.56,375.27 261.07,374.78 264.59,374.26 268.11,373.68 271.63,373.04 275.15,372.35 278.67,371.59 282.19,370.76 285.71,369.86 289.23,368.88 292.75,367.81 296.27,366.64 299.79,365.37 303.31,364 306.83,362.51 310.35,360.89 313.87,359.14 317.39,357.26 320.91,355.23 324.43,353.05 327.95,350.7 331.47,348.19 334.99,345.51 338.51,342.65 342.03,339.61 345.54,336.39 349.06,332.99 352.58,329.4 356.1,325.64 359.62,321.7 363.14,317.59 366.66,313.33 370.18,308.92 373.7,304.37 377.22,299.71 380.74,294.95 384.26,290.1 387.78,285.2 391.3,280.26 394.82,275.3 398.34,270.35 401.86,265.43 405.38,260.57 408.9,255.77 412.42,251.07 415.94,246.48 419.46,242.01 422.98,237.69 426.5,233.52 430.01,229.52 433.53,225.69 437.05,222.03 440.57,218.56 444.09,215.27 447.61,212.16 451.13,209.24 454.65,206.49 458.17,203.91 461.69,201.51 465.21,199.26 468.73,197.18 472.25,195.24 475.77,193.44 479.29,191.77 482.81,190.24 486.33,188.82 489.85,187.51 493.37,186.31 496.89,185.2 500.41,184.18 503.93,183.25 507.45,182.4 510.97,181.61 514.48,180.9 518,180.24 521.52,179.64 525.04,179.09 528.56,178.59 532.08,178.14 535.6,177.72 539.12,177.34 542.64,176.99 546.16,176.68 549.68,176.39 553.2,176.13 556.72,175.89 560.24,175.67 563.76,175.47 567.28,175.29 570.8,175.13 574.32,174.98 577.84,174.84 581.36,174.72 584.88,174.61 588.4,174.5 591.92,174.41 595.44,174.33 598.95,174.25 602.47,174.18 605.99,174.12 609.51,174.06 613.03,174.01 616.55,173.96 620.07,173.92 623.59,173.88" fill="none" stroke="#000" stroke-width="3.3" stroke-dasharray="6.3 10.3" stroke-linecap="round"/>
<polyline points="201.24,363.6 204.76,363.46 208.28,363.31 211.8,363.14 215.32,362.95 218.84,362.75 222.36,362.53 225.88,362.28 229.4,362.01 232.92,361.72 236.44,361.39 239.96,361.04 243.48,360.65 247,360.22 250.52,359.75 254.04,359.24 257.56,358.67 261.07,358.06 264.59,357.39 268.11,356.65 271.63,355.84 275.15,354.97 278.67,354.01 282.19,352.96 285.71,351.82 289.23,350.59 292.75,349.24 296.27,347.78 299.79,346.2 303.31,344.48 306.83,342.63 310.35,340.63 313.87,338.47 317.39,336.15 320.91,333.66 324.43,331 327.95,328.16 331.47,325.12 334.99,321.9 338.51,318.48 342.03,314.88 345.54,311.07 349.06,307.08 352.58,302.91 356.1,298.56 359.62,294.04 363.14,289.37 366.66,284.56 370.18,279.62 373.7,274.58 377.22,269.46 380.74,264.27 384.26,259.05 387.78,253.81 391.3,248.57 394.82,243.38 398.34,238.23 401.86,233.17 405.38,228.2 408.9,223.35 412.42,218.64 415.94,214.08 419.46,209.69 422.98,205.46 426.5,201.42 430.01,197.57 433.53,193.91 437.05,190.44 440.57,187.17 444.09,184.08 447.61,181.19 451.13,178.47 454.65,175.94 458.17,173.58 461.69,171.38 465.21,169.34 468.73,167.44 472.25,165.69 475.77,164.07 479.29,162.58 482.81,161.2 486.33,159.94 489.85,158.77 493.37,157.7 496.89,156.72 500.41,155.82 503.93,155 507.45,154.24 510.97,153.55 514.48,152.92 518,152.35 521.52,151.82 525.04,151.34 528.56,150.9 532.08,150.5 535.6,150.14 539.12,149.81 542.64,149.5 546.16,149.23 549.68,148.98 553.2,148.75 556.72,148.54 560.24,148.35 563.76,148.18 567.28,148.02 570.8,147.88 574.32,147.75 577.84,147.63 581.36,147.52 584.88,147.42 588.4,147.33 591.92,147.25 595.44,147.18 598.95,147.11 602.47,147.05 605.99,147 609.51,146.95 613.03,146.9 616.55,146.86 620.07,146.82 623.59,146.79" fill="none" stroke="#000" stroke-width="3.3"/>
<g stroke="#000" stroke-width="3" fill="none">
<line x1="201.24" y1="339.7" x2="201.24" y2="389.1" stroke-width="3"/>
<line x1="197.04" y1="339.7" x2="205.44" y2="339.7" stroke-width="3.1"/>
<line x1="197.04" y1="389.1" x2="205.44" y2="389.1" stroke-width="3.1"/>
<line x1="226.67" y1="361.7" x2="226.67" y2="405.9" stroke-width="3"/>
<line x1="222.47" y1="361.7" x2="230.87" y2="361.7" stroke-width="3.1"/>
<line x1="222.47" y1="405.9" x2="230.87" y2="405.9" stroke-width="3.1"/>
<line x1="285.71" y1="369" x2="285.71" y2="399.6" stroke-width="3"/>
<line x1="281.51" y1="369" x2="289.91" y2="369" stroke-width="3.1"/>
<line x1="281.51" y1="399.6" x2="289.91" y2="399.6" stroke-width="3.1"/>
<line x1="311.14" y1="354.4" x2="311.14" y2="389.4" stroke-width="3"/>
<line x1="306.94" y1="354.4" x2="315.34" y2="354.4" stroke-width="3.1"/>
<line x1="306.94" y1="389.4" x2="315.34" y2="389.4" stroke-width="3.1"/>
<line x1="370.18" y1="259.3" x2="370.18" y2="311.3" stroke-width="3"/>
<line x1="365.98" y1="259.3" x2="374.38" y2="259.3" stroke-width="3.1"/>
<line x1="365.98" y1="311.3" x2="374.38" y2="311.3" stroke-width="3.1"/>
<line x1="395.61" y1="260.2" x2="395.61" y2="323.8" stroke-width="3"/>
<line x1="391.41" y1="260.2" x2="399.81" y2="260.2" stroke-width="3.1"/>
<line x1="391.41" y1="323.8" x2="399.81" y2="323.8" stroke-width="3.1"/>
<line x1="454.65" y1="170.4" x2="454.65" y2="233.4" stroke-width="3"/>
<line x1="450.45" y1="170.4" x2="458.85" y2="170.4" stroke-width="3.1"/>
<line x1="450.45" y1="233.4" x2="458.85" y2="233.4" stroke-width="3.1"/>
<line x1="480.08" y1="181" x2="480.08" y2="213.6" stroke-width="3"/>
<line x1="475.88" y1="181" x2="484.28" y2="181" stroke-width="3.1"/>
<line x1="475.88" y1="213.6" x2="484.28" y2="213.6" stroke-width="3.1"/>
<line x1="539.12" y1="152.5" x2="539.12" y2="221.5" stroke-width="3"/>
<line x1="534.92" y1="152.5" x2="543.32" y2="152.5" stroke-width="3.1"/>
<line x1="534.92" y1="221.5" x2="543.32" y2="221.5" stroke-width="3.1"/>
<line x1="564.55" y1="128.1" x2="564.55" y2="204.3" stroke-width="3"/>
<line x1="560.35" y1="128.1" x2="568.75" y2="128.1" stroke-width="3.1"/>
<line x1="560.35" y1="204.3" x2="568.75" y2="204.3" stroke-width="3.1"/>
<line x1="623.59" y1="113.3" x2="623.59" y2="221.5" stroke-width="3"/>
<line x1="619.39" y1="113.3" x2="627.79" y2="113.3" stroke-width="3.1"/>
<line x1="619.39" y1="221.5" x2="627.79" y2="221.5" stroke-width="3.1"/>
<line x1="201.24" y1="330" x2="201.24" y2="382.2" stroke-width="3"/>
<line x1="197.04" y1="330" x2="205.44" y2="330" stroke-width="3.1"/>
<line x1="197.04" y1="382.2" x2="205.44" y2="382.2" stroke-width="3.1"/>
<line x1="226.67" y1="342.8" x2="226.67" y2="386" stroke-width="3"/>
<line x1="222.47" y1="342.8" x2="230.87" y2="342.8" stroke-width="3.1"/>
<line x1="222.47" y1="386" x2="230.87" y2="386" stroke-width="3.1"/>
<line x1="285.71" y1="319.7" x2="285.71" y2="380.3" stroke-width="3"/>
<line x1="281.51" y1="319.7" x2="289.91" y2="319.7" stroke-width="3.1"/>
<line x1="281.51" y1="380.3" x2="289.91" y2="380.3" stroke-width="3.1"/>
<line x1="311.14" y1="336.7" x2="311.14" y2="391.1" stroke-width="3"/>
<line x1="306.94" y1="336.7" x2="315.34" y2="336.7" stroke-width="3.1"/>
<line x1="306.94" y1="391.1" x2="315.34" y2="391.1" stroke-width="3.1"/>
<line x1="370.18" y1="202.7" x2="370.18" y2="328.7" stroke-width="3"/>
<line x1="365.98" y1="202.7" x2="374.38" y2="202.7" stroke-width="3.1"/>
<line x1="365.98" y1="328.7" x2="374.38" y2="328.7" stroke-width="3.1"/>
<line x1="395.61" y1="233" x2="395.61" y2="287.8" stroke-width="3"/>
<line x1="391.41" y1="233" x2="399.81" y2="233" stroke-width="3.1"/>
<line x1="391.41" y1="287.8" x2="399.81" y2="287.8" stroke-width="3.1"/>
<line x1="454.65" y1="113.7" x2="454.65" y2="220.5" stroke-width="3"/>
<line x1="450.45" y1="113.7" x2="458.85" y2="113.7" stroke-width="3.1"/>
<line x1="450.45" y1="220.5" x2="458.85" y2="220.5" stroke-width="3.1"/>
<line x1="480.08" y1="118.1" x2="480.08" y2="197.1" stroke-width="3"/>
<line x1="475.88" y1="118.1" x2="484.28" y2="118.1" stroke-width="3.1"/>
<line x1="475.88" y1="197.1" x2="484.28" y2="197.1" stroke-width="3.1"/>
<line x1="539.12" y1="135.6" x2="539.12" y2="198.6" stroke-width="3"/>
<line x1="534.92" y1="135.6" x2="543.32" y2="135.6" stroke-width="3.1"/>
<line x1="534.92" y1="198.6" x2="543.32" y2="198.6" stroke-width="3.1"/>
<line x1="564.55" y1="110.8" x2="564.55" y2="193.8" stroke-width="3"/>
<line x1="560.35" y1="110.8" x2="568.75" y2="110.8" stroke-width="3.1"/>
<line x1="560.35" y1="193.8" x2="568.75" y2="193.8" stroke-width="3.1"/>
<line x1="623.59" y1="107" x2="623.59" y2="166.4" stroke-width="3"/>
<line x1="619.39" y1="107" x2="627.79" y2="107" stroke-width="3.1"/>
<line x1="619.39" y1="166.4" x2="627.79" y2="166.4" stroke-width="3.1"/>
</g>
<circle cx="201.24" cy="364.4" r="6.6" fill="none" stroke="#000" stroke-width="3.1"/>
<circle cx="226.67" cy="383.8" r="6.6" fill="none" stroke="#000" stroke-width="3.1"/>
<circle cx="285.71" cy="384.3" r="6.6" fill="none" stroke="#000" stroke-width="3.1"/>
<circle cx="311.14" cy="371.9" r="6.6" fill="none" stroke="#000" stroke-width="3.1"/>
<circle cx="370.18" cy="285.3" r="6.6" fill="none" stroke="#000" stroke-width="3.1"/>
<circle cx="395.61" cy="292" r="6.6" fill="none" stroke="#000" stroke-width="3.1"/>
<circle cx="454.65" cy="201.9" r="6.6" fill="none" stroke="#000" stroke-width="3.1"/>
<circle cx="480.08" cy="197.3" r="6.6" fill="none" stroke="#000" stroke-width="3.1"/>
<circle cx="539.12" cy="187" r="6.6" fill="none" stroke="#000" stroke-width="3.1"/>
<circle cx="564.55" cy="166.2" r="6.6" fill="none" stroke="#000" stroke-width="3.1"/>
<circle cx="623.59" cy="167.4" r="6.6" fill="none" stroke="#000" stroke-width="3.1"/>
<circle cx="201.24" cy="356.1" r="7" fill="#000"/>
<circle cx="226.67" cy="364.4" r="7" fill="#000"/>
<circle cx="285.71" cy="350" r="7" fill="#000"/>
<circle cx="311.14" cy="363.9" r="7" fill="#000"/>
<circle cx="370.18" cy="265.7" r="7" fill="#000"/>
<circle cx="395.61" cy="260.4" r="7" fill="#000"/>
<circle cx="454.65" cy="167.1" r="7" fill="#000"/>
<circle cx="480.08" cy="157.6" r="7" fill="#000"/>
<circle cx="539.12" cy="167.1" r="7" fill="#000"/>
<circle cx="564.55" cy="152.3" r="7" fill="#000"/>
<circle cx="623.59" cy="136.7" r="7" fill="#000"/>
<line x1="165.2" y1="117" x2="201.6" y2="117" stroke="#000" stroke-width="3" stroke-dasharray="7.5 9.2 6 10.3 3.4"/>
<circle cx="183.4" cy="117" r="6.6" fill="none" stroke="#000" stroke-width="3.1"/>
<line x1="165.2" y1="153.8" x2="201.6" y2="153.8" stroke-width="3" stroke="#000"/>
<circle cx="183.4" cy="153.8" r="7" fill="#000"/>
<text x="222.5" y="124.8" font-size="27" text-anchor="start">Vehicle</text>
<text x="222.5" y="162.4" font-size="27" text-anchor="start">Roflumilast</text>
</g>
<text x="1.5" y="659.5" font-size="72" text-anchor="start">c</text>
<g transform="translate(888 599.7)">
<g stroke="#000" fill="none" stroke-linecap="butt">
<line x1="142.2" y1="90.3" x2="142.2" y2="439.7" stroke-width="3.3"/>
<line x1="131.9" y1="429.2" x2="650.67" y2="429.2" stroke-width="3.3"/>
<line x1="131.9" y1="354.1" x2="142.2" y2="354.1" stroke-width="3.3"/>
<line x1="131.9" y1="279" x2="142.2" y2="279" stroke-width="3.3"/>
<line x1="131.9" y1="203.9" x2="142.2" y2="203.9" stroke-width="3.3"/>
<line x1="131.9" y1="128.8" x2="142.2" y2="128.8" stroke-width="3.3"/>
<line x1="311.14" y1="429.2" x2="311.14" y2="439.7" stroke-width="3.3"/>
<line x1="193.06" y1="429.2" x2="193.06" y2="435.7" stroke-width="3.3"/>
<line x1="222.8" y1="429.2" x2="222.8" y2="435.7" stroke-width="3.3"/>
<line x1="243.91" y1="429.2" x2="243.91" y2="435.7" stroke-width="3.3"/>
<line x1="260.28" y1="429.2" x2="260.28" y2="435.7" stroke-width="3.3"/>
<line x1="273.66" y1="429.2" x2="273.66" y2="435.7" stroke-width="3.3"/>
<line x1="284.97" y1="429.2" x2="284.97" y2="435.7" stroke-width="3.3"/>
<line x1="294.77" y1="429.2" x2="294.77" y2="435.7" stroke-width="3.3"/>
<line x1="303.41" y1="429.2" x2="303.41" y2="435.7" stroke-width="3.3"/>
<line x1="480.08" y1="429.2" x2="480.08" y2="439.7" stroke-width="3.3"/>
<line x1="362" y1="429.2" x2="362" y2="435.7" stroke-width="3.3"/>
<line x1="391.74" y1="429.2" x2="391.74" y2="435.7" stroke-width="3.3"/>
<line x1="412.85" y1="429.2" x2="412.85" y2="435.7" stroke-width="3.3"/>
<line x1="429.22" y1="429.2" x2="429.22" y2="435.7" stroke-width="3.3"/>
<line x1="442.6" y1="429.2" x2="442.6" y2="435.7" stroke-width="3.3"/>
<line x1="453.91" y1="429.2" x2="453.91" y2="435.7" stroke-width="3.3"/>
<line x1="463.71" y1="429.2" x2="463.71" y2="435.7" stroke-width="3.3"/>
<line x1="472.35" y1="429.2" x2="472.35" y2="435.7" stroke-width="3.3"/>
<line x1="649.02" y1="429.2" x2="649.02" y2="439.7" stroke-width="3.3"/>
<line x1="530.94" y1="429.2" x2="530.94" y2="435.7" stroke-width="3.3"/>
<line x1="560.68" y1="429.2" x2="560.68" y2="435.7" stroke-width="3.3"/>
<line x1="581.79" y1="429.2" x2="581.79" y2="435.7" stroke-width="3.3"/>
<line x1="598.16" y1="429.2" x2="598.16" y2="435.7" stroke-width="3.3"/>
<line x1="611.54" y1="429.2" x2="611.54" y2="435.7" stroke-width="3.3"/>
<line x1="622.85" y1="429.2" x2="622.85" y2="435.7" stroke-width="3.3"/>
<line x1="632.65" y1="429.2" x2="632.65" y2="435.7" stroke-width="3.3"/>
<line x1="641.29" y1="429.2" x2="641.29" y2="435.7" stroke-width="3.3"/>
</g>
<text x="128.6" y="439.88" font-size="29" text-anchor="end">0.9</text>
<text x="128.6" y="364.78" font-size="29" text-anchor="end">1.1</text>
<text x="128.6" y="289.68" font-size="29" text-anchor="end">1.3</text>
<text x="128.6" y="214.58" font-size="29" text-anchor="end">1.5</text>
<text x="128.6" y="139.48" font-size="29" text-anchor="end">1.7</text>
<text x="152.5" y="463.2" font-size="28.5" text-anchor="end" transform="rotate(-50.5 152.5 463.2)">0.0001</text>
<text x="321.44" y="463.2" font-size="28.5" text-anchor="end" transform="rotate(-50.5 321.44 463.2)">0.01</text>
<text x="490.38" y="463.2" font-size="28.5" text-anchor="end" transform="rotate(-50.5 490.38 463.2)">1</text>
<text x="659.32" y="463.2" font-size="28.5" text-anchor="end" transform="rotate(-50.5 659.32 463.2)">100</text>
<text x="395.61" y="551.2" font-size="28.1" text-anchor="middle">[ISO], Log µM</text>
<text x="71.6" y="259" font-size="27" text-anchor="middle" transform="rotate(-90 71.6 259)">CFTR Activity</text>
<polyline points="201.24,379.11 204.76,379.01 208.28,378.89 211.8,378.76 215.32,378.61 218.84,378.45 222.36,378.28 225.88,378.09 229.4,377.88 232.92,377.65 236.44,377.4 239.96,377.12 243.48,376.81 247,376.48 250.52,376.11 254.04,375.71 257.56,375.27 261.07,374.78 264.59,374.26 268.11,373.68 271.63,373.04 275.15,372.35 278.67,371.59 282.19,370.76 285.71,369.86 289.23,368.88 292.75,367.81 296.27,366.64 299.79,365.37 303.31,364 306.83,362.51 310.35,360.89 313.87,359.14 317.39,357.26 320.91,355.23 324.43,353.05 327.95,350.7 331.47,348.19 334.99,345.51 338.51,342.65 342.03,339.61 345.54,336.39 349.06,332.99 352.58,329.4 356.1,325.64 359.62,321.7 363.14,317.59 366.66,313.33 370.18,308.92 373.7,304.37 377.22,299.71 380.74,294.95 384.26,290.1 387.78,285.2 391.3,280.26 394.82,275.3 398.34,270.35 401.86,265.43 405.38,260.57 408.9,255.77 412.42,251.07 415.94,246.48 419.46,242.01 422.98,237.69 426.5,233.52 430.01,229.52 433.53,225.69 437.05,222.03 440.57,218.56 444.09,215.27 447.61,212.16 451.13,209.24 454.65,206.49 458.17,203.91 461.69,201.51 465.21,199.26 468.73,197.18 472.25,195.24 475.77,193.44 479.29,191.77 482.81,190.24 486.33,188.82 489.85,187.51 493.37,186.31 496.89,185.2 500.41,184.18 503.93,183.25 507.45,182.4 510.97,181.61 514.48,180.9 518,180.24 521.52,179.64 525.04,179.09 528.56,178.59 532.08,178.14 535.6,177.72 539.12,177.34 542.64,176.99 546.16,176.68 549.68,176.39 553.2,176.13 556.72,175.89 560.24,175.67 563.76,175.47 567.28,175.29 570.8,175.13 574.32,174.98 577.84,174.84 581.36,174.72 584.88,174.61 588.4,174.5 591.92,174.41 595.44,174.33 598.95,174.25 602.47,174.18 605.99,174.12 609.51,174.06 613.03,174.01 616.55,173.96 620.07,173.92 623.59,173.88" fill="none" stroke="#000" stroke-width="3.3" stroke-dasharray="6.3 10.3" stroke-linecap="round"/>
<polyline points="201.24,375.87 204.76,375.68 208.28,375.47 211.8,375.25 215.32,375 218.84,374.72 222.36,374.42 225.88,374.09 229.4,373.73 232.92,373.33 236.44,372.9 239.96,372.42 243.48,371.9 247,371.32 250.52,370.7 254.04,370.01 257.56,369.26 261.07,368.44 264.59,367.54 268.11,366.56 271.63,365.5 275.15,364.34 278.67,363.08 282.19,361.7 285.71,360.21 289.23,358.6 292.75,356.85 296.27,354.96 299.79,352.91 303.31,350.71 306.83,348.35 310.35,345.81 313.87,343.09 317.39,340.18 320.91,337.08 324.43,333.79 327.95,330.3 331.47,326.61 334.99,322.72 338.51,318.64 342.03,314.36 345.54,309.91 349.06,305.28 352.58,300.5 356.1,295.56 359.62,290.5 363.14,285.33 366.66,280.08 370.18,274.75 373.7,269.39 377.22,264 380.74,258.62 384.26,253.28 387.78,247.99 391.3,242.78 394.82,237.66 398.34,232.67 401.86,227.82 405.38,223.12 408.9,218.58 412.42,214.23 415.94,210.06 419.46,206.08 422.98,202.3 426.5,198.72 430.01,195.34 433.53,192.15 437.05,189.16 440.57,186.36 444.09,183.74 447.61,181.29 451.13,179.02 454.65,176.91 458.17,174.95 461.69,173.14 465.21,171.46 468.73,169.92 472.25,168.49 475.77,167.18 479.29,165.97 482.81,164.87 486.33,163.85 489.85,162.92 493.37,162.07 496.89,161.29 500.41,160.57 503.93,159.92 507.45,159.32 510.97,158.77 514.48,158.28 518,157.82 521.52,157.41 525.04,157.03 528.56,156.69 532.08,156.37 535.6,156.09 539.12,155.83 542.64,155.59 546.16,155.37 549.68,155.18 553.2,155 556.72,154.84 560.24,154.69 563.76,154.55 567.28,154.43 570.8,154.32 574.32,154.22 577.84,154.13 581.36,154.04 584.88,153.97 588.4,153.9 591.92,153.83 595.44,153.78 598.95,153.72 602.47,153.68 605.99,153.63 609.51,153.6 613.03,153.56 616.55,153.53 620.07,153.5 623.59,153.47" fill="none" stroke="#000" stroke-width="3.3"/>
<g stroke="#000" stroke-width="3" fill="none">
<line x1="201.24" y1="339.7" x2="201.24" y2="389.1" stroke-width="3"/>
<line x1="197.04" y1="339.7" x2="205.44" y2="339.7" stroke-width="3.1"/>
<line x1="197.04" y1="389.1" x2="205.44" y2="389.1" stroke-width="3.1"/>
<line x1="226.67" y1="361.7" x2="226.67" y2="405.9" stroke-width="3"/>
<line x1="222.47" y1="361.7" x2="230.87" y2="361.7" stroke-width="3.1"/>
<line x1="222.47" y1="405.9" x2="230.87" y2="405.9" stroke-width="3.1"/>
<line x1="285.71" y1="369" x2="285.71" y2="399.6" stroke-width="3"/>
<line x1="281.51" y1="369" x2="289.91" y2="369" stroke-width="3.1"/>
<line x1="281.51" y1="399.6" x2="289.91" y2="399.6" stroke-width="3.1"/>
<line x1="311.14" y1="354.4" x2="311.14" y2="389.4" stroke-width="3"/>
<line x1="306.94" y1="354.4" x2="315.34" y2="354.4" stroke-width="3.1"/>
<line x1="306.94" y1="389.4" x2="315.34" y2="389.4" stroke-width="3.1"/>
<line x1="370.18" y1="259.3" x2="370.18" y2="311.3" stroke-width="3"/>
<line x1="365.98" y1="259.3" x2="374.38" y2="259.3" stroke-width="3.1"/>
<line x1="365.98" y1="311.3" x2="374.38" y2="311.3" stroke-width="3.1"/>
<line x1="395.61" y1="260.2" x2="395.61" y2="323.8" stroke-width="3"/>
<line x1="391.41" y1="260.2" x2="399.81" y2="260.2" stroke-width="3.1"/>
<line x1="391.41" y1="323.8" x2="399.81" y2="323.8" stroke-width="3.1"/>
<line x1="454.65" y1="170.4" x2="454.65" y2="233.4" stroke-width="3"/>
<line x1="450.45" y1="170.4" x2="458.85" y2="170.4" stroke-width="3.1"/>
<line x1="450.45" y1="233.4" x2="458.85" y2="233.4" stroke-width="3.1"/>
<line x1="480.08" y1="181" x2="480.08" y2="213.6" stroke-width="3"/>
<line x1="475.88" y1="181" x2="484.28" y2="181" stroke-width="3.1"/>
<line x1="475.88" y1="213.6" x2="484.28" y2="213.6" stroke-width="3.1"/>
<line x1="539.12" y1="152.5" x2="539.12" y2="221.5" stroke-width="3"/>
<line x1="534.92" y1="152.5" x2="543.32" y2="152.5" stroke-width="3.1"/>
<line x1="534.92" y1="221.5" x2="543.32" y2="221.5" stroke-width="3.1"/>
<line x1="564.55" y1="128.1" x2="564.55" y2="204.3" stroke-width="3"/>
<line x1="560.35" y1="128.1" x2="568.75" y2="128.1" stroke-width="3.1"/>
<line x1="560.35" y1="204.3" x2="568.75" y2="204.3" stroke-width="3.1"/>
<line x1="623.59" y1="113.3" x2="623.59" y2="221.5" stroke-width="3"/>
<line x1="619.39" y1="113.3" x2="627.79" y2="113.3" stroke-width="3.1"/>
<line x1="619.39" y1="221.5" x2="627.79" y2="221.5" stroke-width="3.1"/>
<line x1="201.24" y1="346" x2="201.24" y2="423.2" stroke-width="3"/>
<line x1="197.04" y1="346" x2="205.44" y2="346" stroke-width="3.1"/>
<line x1="197.04" y1="423.2" x2="205.44" y2="423.2" stroke-width="3.1"/>
<line x1="226.67" y1="343.7" x2="226.67" y2="389.1" stroke-width="3"/>
<line x1="222.47" y1="343.7" x2="230.87" y2="343.7" stroke-width="3.1"/>
<line x1="222.47" y1="389.1" x2="230.87" y2="389.1" stroke-width="3.1"/>
<line x1="285.71" y1="336.2" x2="285.71" y2="381" stroke-width="3"/>
<line x1="281.51" y1="336.2" x2="289.91" y2="336.2" stroke-width="3.1"/>
<line x1="281.51" y1="381" x2="289.91" y2="381" stroke-width="3.1"/>
<line x1="311.14" y1="329.6" x2="311.14" y2="387" stroke-width="3"/>
<line x1="306.94" y1="329.6" x2="315.34" y2="329.6" stroke-width="3.1"/>
<line x1="306.94" y1="387" x2="315.34" y2="387" stroke-width="3.1"/>
<line x1="370.18" y1="226" x2="370.18" y2="307.2" stroke-width="3"/>
<line x1="365.98" y1="226" x2="374.38" y2="226" stroke-width="3.1"/>
<line x1="365.98" y1="307.2" x2="374.38" y2="307.2" stroke-width="3.1"/>
<line x1="395.61" y1="198.1" x2="395.61" y2="280.3" stroke-width="3"/>
<line x1="391.41" y1="198.1" x2="399.81" y2="198.1" stroke-width="3.1"/>
<line x1="391.41" y1="280.3" x2="399.81" y2="280.3" stroke-width="3.1"/>
<line x1="454.65" y1="152.9" x2="454.65" y2="215.3" stroke-width="3"/>
<line x1="450.45" y1="152.9" x2="458.85" y2="152.9" stroke-width="3.1"/>
<line x1="450.45" y1="215.3" x2="458.85" y2="215.3" stroke-width="3.1"/>
<line x1="480.08" y1="118.1" x2="480.08" y2="226.9" stroke-width="3"/>
<line x1="475.88" y1="118.1" x2="484.28" y2="118.1" stroke-width="3.1"/>
<line x1="475.88" y1="226.9" x2="484.28" y2="226.9" stroke-width="3.1"/>
<line x1="539.12" y1="134.4" x2="539.12" y2="180.8" stroke-width="3"/>
<line x1="534.92" y1="134.4" x2="543.32" y2="134.4" stroke-width="3.1"/>
<line x1="534.92" y1="180.8" x2="543.32" y2="180.8" stroke-width="3.1"/>
<line x1="564.55" y1="104.9" x2="564.55" y2="207.1" stroke-width="3"/>
<line x1="560.35" y1="104.9" x2="568.75" y2="104.9" stroke-width="3.1"/>
<line x1="560.35" y1="207.1" x2="568.75" y2="207.1" stroke-width="3.1"/>
<line x1="623.59" y1="116.1" x2="623.59" y2="165.9" stroke-width="3"/>
<line x1="619.39" y1="116.1" x2="627.79" y2="116.1" stroke-width="3.1"/>
<line x1="619.39" y1="165.9" x2="627.79" y2="165.9" stroke-width="3.1"/>
</g>
<circle cx="201.24" cy="364.4" r="6.6" fill="none" stroke="#000" stroke-width="3.1"/>
<circle cx="226.67" cy="383.8" r="6.6" fill="none" stroke="#000" stroke-width="3.1"/>
<circle cx="285.71" cy="384.3" r="6.6" fill="none" stroke="#000" stroke-width="3.1"/>
<circle cx="311.14" cy="371.9" r="6.6" fill="none" stroke="#000" stroke-width="3.1"/>
<circle cx="370.18" cy="285.3" r="6.6" fill="none" stroke="#000" stroke-width="3.1"/>
<circle cx="395.61" cy="292" r="6.6" fill="none" stroke="#000" stroke-width="3.1"/>
<circle cx="454.65" cy="201.9" r="6.6" fill="none" stroke="#000" stroke-width="3.1"/>
<circle cx="480.08" cy="197.3" r="6.6" fill="none" stroke="#000" stroke-width="3.1"/>
<circle cx="539.12" cy="187" r="6.6" fill="none" stroke="#000" stroke-width="3.1"/>
<circle cx="564.55" cy="166.2" r="6.6" fill="none" stroke="#000" stroke-width="3.1"/>
<circle cx="623.59" cy="167.4" r="6.6" fill="none" stroke="#000" stroke-width="3.1"/>
<circle cx="201.24" cy="384.6" r="7" fill="#000"/>
<circle cx="226.67" cy="366.4" r="7" fill="#000"/>
<circle cx="285.71" cy="358.6" r="7" fill="#000"/>
<circle cx="311.14" cy="358.3" r="7" fill="#000"/>
<circle cx="370.18" cy="266.6" r="7" fill="#000"/>
<circle cx="395.61" cy="239.2" r="7" fill="#000"/>
<circle cx="454.65" cy="184.1" r="7" fill="#000"/>
<circle cx="480.08" cy="172.5" r="7" fill="#000"/>
<circle cx="539.12" cy="157.6" r="7" fill="#000"/>
<circle cx="564.55" cy="156" r="7" fill="#000"/>
<circle cx="623.59" cy="141" r="7" fill="#000"/>
<line x1="166.5" y1="124.4" x2="202.9" y2="124.4" stroke="#000" stroke-width="3" stroke-dasharray="7.5 9.2 6 10.3 3.4"/>
<circle cx="184.7" cy="124.4" r="6.6" fill="none" stroke="#000" stroke-width="3.1"/>
<line x1="166.5" y1="162.4" x2="202.9" y2="162.4" stroke-width="3" stroke="#000"/>
<circle cx="184.7" cy="162.4" r="7" fill="#000"/>
<text x="223.7" y="133.1" font-size="27" text-anchor="start">Vehicle</text>
<text x="223.7" y="171.2" font-size="27" text-anchor="start">Rolipram</text>
</g>
<text x="905.4" y="660" font-size="72" text-anchor="start">d</text>
<g transform="translate(0 0)">
<g stroke="#000" fill="none">
<line x1="142.2" y1="1289.3" x2="142.2" y2="1630.45" stroke-width="3.3"/>
<line x1="131.9" y1="1628.8" x2="650.5" y2="1628.8" stroke-width="3.3"/>
<line x1="131.9" y1="1516.13" x2="142.2" y2="1516.13" stroke-width="3.3"/>
<line x1="131.9" y1="1403.47" x2="142.2" y2="1403.47" stroke-width="3.3"/>
<line x1="131.9" y1="1290.8" x2="142.2" y2="1290.8" stroke-width="3.3"/>
<line x1="268.4" y1="1628.8" x2="268.4" y2="1639" stroke-width="3.3"/>
<line x1="521.9" y1="1628.8" x2="521.9" y2="1639" stroke-width="3.3"/>
</g>
<text x="128.6" y="1639.48" font-size="29" text-anchor="end">1.0</text>
<text x="128.6" y="1526.82" font-size="29" text-anchor="end">1.5</text>
<text x="128.6" y="1414.15" font-size="29" text-anchor="end">2.0</text>
<text x="128.6" y="1301.48" font-size="29" text-anchor="end">2.5</text>
<text x="276.2" y="1665.1" font-size="28" text-anchor="end" transform="rotate(-45 276.2 1665.1)">FSK</text>
<text x="529.7" y="1665.1" font-size="28" text-anchor="end" transform="rotate(-45 529.7 1665.1)">ISO</text>
<text x="71.3" y="1459" font-size="27" text-anchor="middle" transform="rotate(-90 71.3 1459)">AUC</text>
<line x1="199.55" y1="1576.9" x2="199.55" y2="1591.2" stroke-width="2.8" stroke="#000"/>
<line x1="188.05" y1="1576.9" x2="211.05" y2="1576.9" stroke-width="2.8" stroke="#000"/>
<rect x="177.8" y="1592.6" width="43.5" height="36.2" fill="#000" stroke="#000" stroke-width="2.8"/>
<line x1="269.05" y1="1535.7" x2="269.05" y2="1554.8" stroke-width="2.8" stroke="#000"/>
<line x1="257.55" y1="1535.7" x2="280.55" y2="1535.7" stroke-width="2.8" stroke="#000"/>
<rect x="247.3" y="1556.2" width="43.5" height="72.6" fill="#a0a0a0" stroke="#000" stroke-width="2.8"/>
<line x1="338.35" y1="1546.2" x2="338.35" y2="1570.6" stroke-width="2.8" stroke="#000"/>
<line x1="326.85" y1="1546.2" x2="349.85" y2="1546.2" stroke-width="2.8" stroke="#000"/>
<rect x="316.6" y="1572" width="43.5" height="56.8" fill="#808080" stroke="#000" stroke-width="2.8"/>
<line x1="453.25" y1="1503.7" x2="453.25" y2="1512" stroke-width="2.8" stroke="#000"/>
<line x1="441.75" y1="1503.7" x2="464.75" y2="1503.7" stroke-width="2.8" stroke="#000"/>
<rect x="431.5" y="1513.4" width="43.5" height="115.4" fill="#000" stroke="#000" stroke-width="2.8"/>
<line x1="522.75" y1="1422.5" x2="522.75" y2="1443.9" stroke-width="2.8" stroke="#000"/>
<line x1="511.25" y1="1422.5" x2="534.25" y2="1422.5" stroke-width="2.8" stroke="#000"/>
<rect x="501" y="1445.3" width="43.5" height="183.5" fill="#a0a0a0" stroke="#000" stroke-width="2.8"/>
<line x1="591.85" y1="1430.8" x2="591.85" y2="1446.8" stroke-width="2.8" stroke="#000"/>
<line x1="580.35" y1="1430.8" x2="603.35" y2="1430.8" stroke-width="2.8" stroke="#000"/>
<rect x="570.1" y="1448.2" width="43.5" height="180.6" fill="#808080" stroke="#000" stroke-width="2.8"/>
<line x1="131.9" y1="1628.8" x2="650.5" y2="1628.8" stroke-width="3.3" stroke="#000"/>
<polyline points="453.1,1326.8 453.1,1310.2 591.7,1310.2 591.7,1326.8" fill="none" stroke="#1a1a1a" stroke-width="3.2"/>
<text x="520" y="1307.1" font-size="35" text-anchor="middle">*</text>
<polyline points="453.1,1396 453.1,1378.3 522.8,1378.3 522.8,1396" fill="none" stroke="#1a1a1a" stroke-width="3.2"/>
<text x="485.8" y="1375.7" font-size="35" text-anchor="middle">*</text>
<rect x="677.4" y="1406.2" width="32.9" height="14.8" fill="#000" stroke="#000" stroke-width="3"/>
<text x="732.7" y="1423" font-size="27" text-anchor="start">Vehicle</text>
<rect x="677.4" y="1445.2" width="32.9" height="14.8" fill="#a0a0a0" stroke="#000" stroke-width="3"/>
<text x="732.7" y="1462" font-size="27" text-anchor="start">Roflumilast</text>
<rect x="677.4" y="1484.2" width="32.9" height="14.8" fill="#808080" stroke="#000" stroke-width="3"/>
<text x="732.7" y="1501" font-size="27" text-anchor="start">Rolipram</text>
</g>
<text x="1.4" y="1247.1" font-size="72" text-anchor="start">e</text>
<g transform="translate(888 0)">
<g stroke="#000" fill="none">
<line x1="142.2" y1="1289.3" x2="142.2" y2="1630.45" stroke-width="3.3"/>
<line x1="131.9" y1="1628.8" x2="650.5" y2="1628.8" stroke-width="3.3"/>
<line x1="131.9" y1="1516.13" x2="142.2" y2="1516.13" stroke-width="3.3"/>
<line x1="131.9" y1="1403.47" x2="142.2" y2="1403.47" stroke-width="3.3"/>
<line x1="131.9" y1="1290.8" x2="142.2" y2="1290.8" stroke-width="3.3"/>
<line x1="268.4" y1="1628.8" x2="268.4" y2="1639" stroke-width="3.3"/>
<line x1="521.9" y1="1628.8" x2="521.9" y2="1639" stroke-width="3.3"/>
</g>
<text x="128.6" y="1639.48" font-size="29" text-anchor="end">0.0</text>
<text x="128.6" y="1526.82" font-size="29" text-anchor="end">0.2</text>
<text x="128.6" y="1414.15" font-size="29" text-anchor="end">0.4</text>
<text x="128.6" y="1301.48" font-size="29" text-anchor="end">0.6</text>
<text x="276.2" y="1665.1" font-size="28" text-anchor="end" transform="rotate(-45 276.2 1665.1)">FSK</text>
<text x="529.7" y="1665.1" font-size="28" text-anchor="end" transform="rotate(-45 529.7 1665.1)">ISO</text>
<text x="59.7" y="1457.6" font-size="27" text-anchor="middle" transform="rotate(-90 59.7 1457.6)">EC50 Values</text>
<line x1="199.55" y1="1378.9" x2="199.55" y2="1434.95" stroke-width="2.8" stroke="#000"/>
<line x1="188.05" y1="1378.9" x2="211.05" y2="1378.9" stroke-width="2.8" stroke="#000"/>
<rect x="177.8" y="1436.35" width="43.5" height="192.45" fill="#000" stroke="#000" stroke-width="2.8"/>
<line x1="269.05" y1="1459.1" x2="269.05" y2="1477.3" stroke-width="2.8" stroke="#000"/>
<line x1="257.55" y1="1459.1" x2="280.55" y2="1459.1" stroke-width="2.8" stroke="#000"/>
<rect x="247.3" y="1478.7" width="43.5" height="150.1" fill="#a0a0a0" stroke="#000" stroke-width="2.8"/>
<line x1="338.35" y1="1478.9" x2="338.35" y2="1499.7" stroke-width="2.8" stroke="#000"/>
<line x1="326.85" y1="1478.9" x2="349.85" y2="1478.9" stroke-width="2.8" stroke="#000"/>
<rect x="316.6" y="1501.1" width="43.5" height="127.7" fill="#808080" stroke="#000" stroke-width="2.8"/>
<line x1="453.25" y1="1561.1" x2="453.25" y2="1573" stroke-width="2.8" stroke="#000"/>
<line x1="441.75" y1="1561.1" x2="464.75" y2="1561.1" stroke-width="2.8" stroke="#000"/>
<rect x="431.5" y="1574.4" width="43.5" height="54.4" fill="#000" stroke="#000" stroke-width="2.8"/>
<line x1="522.75" y1="1566.4" x2="522.75" y2="1578.9" stroke-width="2.8" stroke="#000"/>
<line x1="511.25" y1="1566.4" x2="534.25" y2="1566.4" stroke-width="2.8" stroke="#000"/>
<rect x="501" y="1580.3" width="43.5" height="48.5" fill="#a0a0a0" stroke="#000" stroke-width="2.8"/>
<line x1="591.85" y1="1594" x2="591.85" y2="1596.3" stroke-width="2.8" stroke="#000"/>
<line x1="580.35" y1="1594" x2="603.35" y2="1594" stroke-width="2.8" stroke="#000"/>
<rect x="570.1" y="1597.7" width="43.5" height="31.1" fill="#808080" stroke="#000" stroke-width="2.8"/>
<line x1="131.9" y1="1628.8" x2="650.5" y2="1628.8" stroke-width="3.3" stroke="#000"/>
<rect x="667.8" y="1406.2" width="32.9" height="14.8" fill="#000" stroke="#000" stroke-width="3"/>
<text x="723.1" y="1423" font-size="27" text-anchor="start">Vehicle</text>
<rect x="667.8" y="1445.2" width="32.9" height="14.8" fill="#a0a0a0" stroke="#000" stroke-width="3"/>
<text x="723.1" y="1462" font-size="27" text-anchor="start">Roflumilast</text>
<rect x="667.8" y="1484.2" width="32.9" height="14.8" fill="#808080" stroke="#000" stroke-width="3"/>
<text x="723.1" y="1501" font-size="27" text-anchor="start">Rolipram</text>
</g>
<text x="905.4" y="1246.8" font-size="72" text-anchor="start" textLength="26.5" lengthAdjust="spacingAndGlyphs">f</text>
<g transform="translate(0 0)">
<g stroke="#000" fill="none">
<line x1="142.2" y1="1833.1" x2="142.2" y2="2174.65" stroke-width="3.3"/>
<line x1="131.9" y1="2173" x2="650.5" y2="2173" stroke-width="3.3"/>
<line x1="131.9" y1="2003.8" x2="142.2" y2="2003.8" stroke-width="3.3"/>
<line x1="131.9" y1="1834.6" x2="142.2" y2="1834.6" stroke-width="3.3"/>
<line x1="268.4" y1="2173" x2="268.4" y2="2183.2" stroke-width="3.3"/>
<line x1="521.9" y1="2173" x2="521.9" y2="2183.2" stroke-width="3.3"/>
</g>
<text x="128.6" y="2183.68" font-size="29" text-anchor="end">1.0</text>
<text x="128.6" y="2014.48" font-size="29" text-anchor="end">1.5</text>
<text x="128.6" y="1845.28" font-size="29" text-anchor="end">2.0</text>
<text x="276.2" y="2209.3" font-size="28" text-anchor="end" transform="rotate(-45 276.2 2209.3)">FSK</text>
<text x="529.7" y="2209.3" font-size="28" text-anchor="end" transform="rotate(-45 529.7 2209.3)">ISO</text>
<text x="71.3" y="2001.3" font-size="27" text-anchor="middle" transform="rotate(-90 71.3 2001.3)">Emax Values</text>
<line x1="199.55" y1="1970.4" x2="199.55" y2="1982.7" stroke-width="2.8" stroke="#000"/>
<line x1="188.05" y1="1970.4" x2="211.05" y2="1970.4" stroke-width="2.8" stroke="#000"/>
<rect x="177.8" y="1984.1" width="43.5" height="188.9" fill="#000" stroke="#000" stroke-width="2.8"/>
<line x1="269.05" y1="1965" x2="269.05" y2="1973.4" stroke-width="2.8" stroke="#000"/>
<line x1="257.55" y1="1965" x2="280.55" y2="1965" stroke-width="2.8" stroke="#000"/>
<rect x="247.3" y="1974.8" width="43.5" height="198.2" fill="#a0a0a0" stroke="#000" stroke-width="2.8"/>
<line x1="338.35" y1="1969.6" x2="338.35" y2="1987.2" stroke-width="2.8" stroke="#000"/>
<line x1="326.85" y1="1969.6" x2="349.85" y2="1969.6" stroke-width="2.8" stroke="#000"/>
<rect x="316.6" y="1988.6" width="43.5" height="184.4" fill="#808080" stroke="#000" stroke-width="2.8"/>
<line x1="453.25" y1="1962.5" x2="453.25" y2="1975.3" stroke-width="2.8" stroke="#000"/>
<line x1="441.75" y1="1962.5" x2="464.75" y2="1962.5" stroke-width="2.8" stroke="#000"/>
<rect x="431.5" y="1976.7" width="43.5" height="196.3" fill="#000" stroke="#000" stroke-width="2.8"/>
<line x1="522.75" y1="1938.3" x2="522.75" y2="1952.2" stroke-width="2.8" stroke="#000"/>
<line x1="511.25" y1="1938.3" x2="534.25" y2="1938.3" stroke-width="2.8" stroke="#000"/>
<rect x="501" y="1953.6" width="43.5" height="219.4" fill="#a0a0a0" stroke="#000" stroke-width="2.8"/>
<line x1="591.85" y1="1945" x2="591.85" y2="1958.1" stroke-width="2.8" stroke="#000"/>
<line x1="580.35" y1="1945" x2="603.35" y2="1945" stroke-width="2.8" stroke="#000"/>
<rect x="570.1" y="1959.5" width="43.5" height="213.5" fill="#808080" stroke="#000" stroke-width="2.8"/>
<line x1="131.9" y1="2173" x2="650.5" y2="2173" stroke-width="3.3" stroke="#000"/>
<rect x="677.6" y="1950.4" width="32.9" height="14.8" fill="#000" stroke="#000" stroke-width="3"/>
<text x="732.9" y="1967.2" font-size="27" text-anchor="start">Vehicle</text>
<rect x="677.6" y="1989.4" width="32.9" height="14.8" fill="#a0a0a0" stroke="#000" stroke-width="3"/>
<text x="732.9" y="2006.2" font-size="27" text-anchor="start">Roflumilast</text>
<rect x="677.6" y="2028.4" width="32.9" height="14.8" fill="#808080" stroke="#000" stroke-width="3"/>
<text x="732.9" y="2045.2" font-size="27" text-anchor="start">Rolipram</text>
</g>
<text x="6.3" y="1768.5" font-size="72" text-anchor="start">g</text>
<g transform="translate(888.4 0)">
<g stroke="#000" fill="none">
<line x1="142.2" y1="1833.1" x2="142.2" y2="2174.65" stroke-width="3.3"/>
<line x1="131.9" y1="2173" x2="650.5" y2="2173" stroke-width="3.3"/>
<line x1="131.9" y1="2003.8" x2="142.2" y2="2003.8" stroke-width="3.3"/>
<line x1="131.9" y1="1834.6" x2="142.2" y2="1834.6" stroke-width="3.3"/>
<line x1="268.4" y1="2173" x2="268.4" y2="2183.2" stroke-width="3.3"/>
<line x1="521.9" y1="2173" x2="521.9" y2="2183.2" stroke-width="3.3"/>
</g>
<text x="128.6" y="2183.68" font-size="29" text-anchor="end">0.5</text>
<text x="128.6" y="2014.48" font-size="29" text-anchor="end">1.0</text>
<text x="128.6" y="1845.28" font-size="29" text-anchor="end">1.5</text>
<text x="276.2" y="2209.3" font-size="28" text-anchor="end" transform="rotate(-45 276.2 2209.3)">FSK</text>
<text x="529.7" y="2209.3" font-size="28" text-anchor="end" transform="rotate(-45 529.7 2209.3)">ISO</text>
<text x="72.3" y="2001.5" font-size="27" text-anchor="middle" transform="rotate(-90 72.3 2001.5)">Baseline Values</text>
<line x1="199.55" y1="1988.6" x2="199.55" y2="1998.1" stroke-width="2.8" stroke="#000"/>
<line x1="188.05" y1="1988.6" x2="211.05" y2="1988.6" stroke-width="2.8" stroke="#000"/>
<rect x="177.8" y="1999.5" width="43.5" height="173.5" fill="#000" stroke="#000" stroke-width="2.8"/>
<line x1="269.05" y1="1983.3" x2="269.05" y2="1990.8" stroke-width="2.8" stroke="#000"/>
<line x1="257.55" y1="1983.3" x2="280.55" y2="1983.3" stroke-width="2.8" stroke="#000"/>
<rect x="247.3" y="1992.2" width="43.5" height="180.8" fill="#a0a0a0" stroke="#000" stroke-width="2.8"/>
<line x1="338.35" y1="1985.2" x2="338.35" y2="1995.1" stroke-width="2.8" stroke="#000"/>
<line x1="326.85" y1="1985.2" x2="349.85" y2="1985.2" stroke-width="2.8" stroke="#000"/>
<rect x="316.6" y="1996.5" width="43.5" height="176.5" fill="#808080" stroke="#000" stroke-width="2.8"/>
<line x1="453.25" y1="1988.2" x2="453.25" y2="1995.7" stroke-width="2.8" stroke="#000"/>
<line x1="441.75" y1="1988.2" x2="464.75" y2="1988.2" stroke-width="2.8" stroke="#000"/>
<rect x="431.5" y="1997.1" width="43.5" height="175.9" fill="#000" stroke="#000" stroke-width="2.8"/>
<line x1="522.75" y1="1972.8" x2="522.75" y2="1983.3" stroke-width="2.8" stroke="#000"/>
<line x1="511.25" y1="1972.8" x2="534.25" y2="1972.8" stroke-width="2.8" stroke="#000"/>
<rect x="501" y="1984.7" width="43.5" height="188.3" fill="#a0a0a0" stroke="#000" stroke-width="2.8"/>
<line x1="591.85" y1="1983.1" x2="591.85" y2="1993.6" stroke-width="2.8" stroke="#000"/>
<line x1="580.35" y1="1983.1" x2="603.35" y2="1983.1" stroke-width="2.8" stroke="#000"/>
<rect x="570.1" y="1995" width="43.5" height="178" fill="#808080" stroke="#000" stroke-width="2.8"/>
<line x1="131.9" y1="2173" x2="650.5" y2="2173" stroke-width="3.3" stroke="#000"/>
<rect x="677.1" y="1950.4" width="32.9" height="14.8" fill="#000" stroke="#000" stroke-width="3"/>
<text x="732.4" y="1967.2" font-size="27" text-anchor="start">Vehicle</text>
<rect x="677.1" y="1989.4" width="32.9" height="14.8" fill="#a0a0a0" stroke="#000" stroke-width="3"/>
<text x="732.4" y="2006.2" font-size="27" text-anchor="start">Roflumilast</text>
<rect x="677.1" y="2028.4" width="32.9" height="14.8" fill="#808080" stroke="#000" stroke-width="3"/>
<text x="732.4" y="2045.2" font-size="27" text-anchor="start">Rolipram</text>
</g>
<text x="904.9" y="1768.9" font-size="72" text-anchor="start">h</text>
</svg>
</body></html>
